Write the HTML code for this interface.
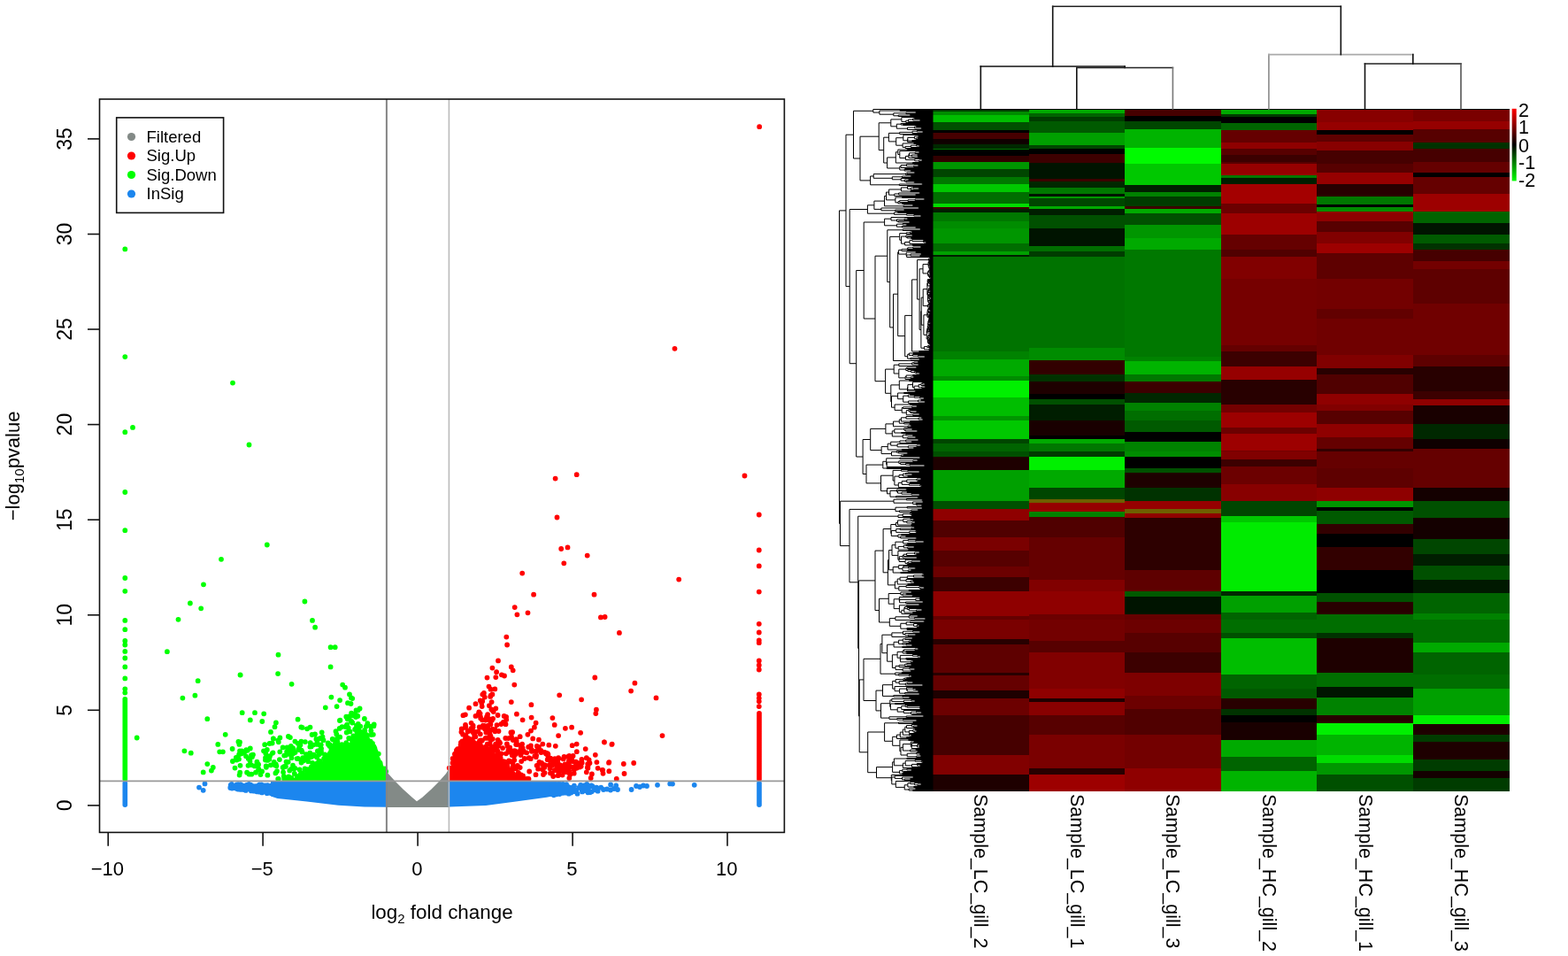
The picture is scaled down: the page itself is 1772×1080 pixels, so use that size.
<!DOCTYPE html><html><head><meta charset="utf-8"><title>Volcano plot and heatmap</title><style>html,body{margin:0;padding:0;background:#fff;overflow:hidden}svg{display:block}</style></head><body>
<svg width="1772" height="1080" viewBox="0 0 1772 1080">
<rect width="1772" height="1080" fill="#fff"/>
<g shape-rendering="crispEdges">
<rect x="1054" y="123" width="109.1" height="1.6" fill="#000000"/>
<rect x="1054" y="124" width="109.1" height="2.2" fill="#003c00"/>
<rect x="1054" y="125.6" width="109.1" height="5.2" fill="#008c00"/>
<rect x="1054" y="130.2" width="109.1" height="8.1" fill="#00be00"/>
<rect x="1054" y="137.7" width="109.1" height="9.9" fill="#005000"/>
<rect x="1054" y="147" width="109.1" height="3.4" fill="#000000"/>
<rect x="1054" y="149.8" width="109.1" height="8" fill="#460000"/>
<rect x="1054" y="157.2" width="109.1" height="6.2" fill="#0f0000"/>
<rect x="1054" y="162.8" width="109.1" height="5.3" fill="#002800"/>
<rect x="1054" y="167.5" width="109.1" height="1.9" fill="#006e00"/>
<rect x="1054" y="168.8" width="109.1" height="7.7" fill="#000000"/>
<rect x="1054" y="175.9" width="109.1" height="8" fill="#320000"/>
<rect x="1054" y="183.3" width="109.1" height="8.1" fill="#009600"/>
<rect x="1054" y="190.8" width="109.1" height="9.8" fill="#004600"/>
<rect x="1054" y="200" width="109.1" height="8.1" fill="#007800"/>
<rect x="1054" y="207.5" width="109.1" height="9.9" fill="#00c800"/>
<rect x="1054" y="216.8" width="109.1" height="13.7" fill="#006e00"/>
<rect x="1054" y="229.9" width="109.1" height="4.3" fill="#00dc00"/>
<rect x="1054" y="233.6" width="109.1" height="3.4" fill="#3c0000"/>
<rect x="1054" y="236.4" width="109.1" height="4.3" fill="#001e00"/>
<rect x="1054" y="240.1" width="109.1" height="10.9" fill="#007800"/>
<rect x="1054" y="250.4" width="109.1" height="8" fill="#008c00"/>
<rect x="1054" y="257.8" width="109.1" height="17.4" fill="#009600"/>
<rect x="1054" y="274.6" width="109.1" height="9.9" fill="#006e00"/>
<rect x="1054" y="283.9" width="109.1" height="4.3" fill="#00a000"/>
<rect x="1054" y="287.6" width="109.1" height="3.4" fill="#001e00"/>
<rect x="1054" y="290.4" width="109.1" height="107.2" fill="#007300"/>
<rect x="1054" y="397" width="109.1" height="9.8" fill="#008200"/>
<rect x="1054" y="406.2" width="109.1" height="19.3" fill="#00aa00"/>
<rect x="1054" y="424.9" width="109.1" height="5.2" fill="#008c00"/>
<rect x="1054" y="429.5" width="109.1" height="20.2" fill="#00f000"/>
<rect x="1054" y="449.1" width="109.1" height="21.1" fill="#00be00"/>
<rect x="1054" y="469.6" width="109.1" height="6.1" fill="#009600"/>
<rect x="1054" y="475.1" width="109.1" height="21.1" fill="#00c800"/>
<rect x="1054" y="495.6" width="109.1" height="6.2" fill="#004600"/>
<rect x="1054" y="501.2" width="109.1" height="9.4" fill="#006400"/>
<rect x="1054" y="510" width="109.1" height="6.2" fill="#005000"/>
<rect x="1054" y="515.6" width="109.1" height="15.5" fill="#1e0000"/>
<rect x="1054" y="530.5" width="109.1" height="36" fill="#00a000"/>
<rect x="1054" y="565.9" width="109.1" height="9.9" fill="#005000"/>
<rect x="1054" y="575.2" width="109.1" height="13.6" fill="#8f0000"/>
<rect x="1054" y="588.2" width="109.1" height="19.2" fill="#500000"/>
<rect x="1054" y="606.8" width="109.1" height="15.5" fill="#7a0000"/>
<rect x="1054" y="621.7" width="109.1" height="19.3" fill="#570000"/>
<rect x="1054" y="640.4" width="109.1" height="11.7" fill="#6c0000"/>
<rect x="1054" y="651.5" width="109.1" height="17.4" fill="#3c0000"/>
<rect x="1054" y="668.3" width="109.1" height="28.5" fill="#8f0000"/>
<rect x="1054" y="696.2" width="109.1" height="4.4" fill="#650000"/>
<rect x="1054" y="700" width="109.1" height="22.9" fill="#7a0000"/>
<rect x="1054" y="722.3" width="109.1" height="6.2" fill="#280000"/>
<rect x="1054" y="727.9" width="109.1" height="32.3" fill="#5e0000"/>
<rect x="1054" y="759.6" width="109.1" height="4.3" fill="#280000"/>
<rect x="1054" y="763.3" width="109.1" height="17.4" fill="#650000"/>
<rect x="1054" y="780.1" width="109.1" height="9.9" fill="#1e0000"/>
<rect x="1054" y="789.4" width="109.1" height="19.2" fill="#6c0000"/>
<rect x="1054" y="808" width="109.1" height="45.3" fill="#460000"/>
<rect x="1054" y="852.7" width="109.1" height="22.9" fill="#810000"/>
<rect x="1054" y="875" width="109.1" height="19.4" fill="#1e0000"/>
<rect x="1162.5" y="123" width="109.1" height="1.6" fill="#000000"/>
<rect x="1162.5" y="124" width="109.1" height="5" fill="#00aa00"/>
<rect x="1162.5" y="128.4" width="109.1" height="4.3" fill="#006400"/>
<rect x="1162.5" y="132.1" width="109.1" height="5.3" fill="#003c00"/>
<rect x="1162.5" y="136.8" width="109.1" height="13.6" fill="#005a00"/>
<rect x="1162.5" y="149.8" width="109.1" height="14.6" fill="#00a000"/>
<rect x="1162.5" y="163.8" width="109.1" height="5.2" fill="#004600"/>
<rect x="1162.5" y="168.4" width="109.1" height="6.2" fill="#000000"/>
<rect x="1162.5" y="174" width="109.1" height="10.8" fill="#3c0000"/>
<rect x="1162.5" y="184.2" width="109.1" height="18.3" fill="#001400"/>
<rect x="1162.5" y="201.9" width="109.1" height="3.4" fill="#3c0000"/>
<rect x="1162.5" y="204.7" width="109.1" height="8.1" fill="#002800"/>
<rect x="1162.5" y="212.2" width="109.1" height="7.1" fill="#007800"/>
<rect x="1162.5" y="218.7" width="109.1" height="3.4" fill="#001400"/>
<rect x="1162.5" y="221.5" width="109.1" height="3.4" fill="#009600"/>
<rect x="1162.5" y="224.3" width="109.1" height="9" fill="#004600"/>
<rect x="1162.5" y="232.7" width="109.1" height="4.3" fill="#00aa00"/>
<rect x="1162.5" y="236.4" width="109.1" height="7.1" fill="#001e00"/>
<rect x="1162.5" y="242.9" width="109.1" height="15.5" fill="#005000"/>
<rect x="1162.5" y="257.8" width="109.1" height="21.1" fill="#001400"/>
<rect x="1162.5" y="278.3" width="109.1" height="6.2" fill="#006e00"/>
<rect x="1162.5" y="283.9" width="109.1" height="7.1" fill="#003c00"/>
<rect x="1162.5" y="290.4" width="109.1" height="103.4" fill="#007300"/>
<rect x="1162.5" y="393.2" width="109.1" height="14.6" fill="#008c00"/>
<rect x="1162.5" y="407.2" width="109.1" height="16.4" fill="#320000"/>
<rect x="1162.5" y="423" width="109.1" height="8.1" fill="#003200"/>
<rect x="1162.5" y="430.5" width="109.1" height="15.5" fill="#1e0000"/>
<rect x="1162.5" y="445.4" width="109.1" height="6.2" fill="#000000"/>
<rect x="1162.5" y="451" width="109.1" height="6.1" fill="#005000"/>
<rect x="1162.5" y="456.5" width="109.1" height="19.2" fill="#001e00"/>
<rect x="1162.5" y="475.1" width="109.1" height="17.4" fill="#190000"/>
<rect x="1162.5" y="491.9" width="109.1" height="4.3" fill="#000000"/>
<rect x="1162.5" y="495.6" width="109.1" height="6.2" fill="#00aa00"/>
<rect x="1162.5" y="501.2" width="109.1" height="9.4" fill="#007800"/>
<rect x="1162.5" y="510" width="109.1" height="6.2" fill="#003c00"/>
<rect x="1162.5" y="515.6" width="109.1" height="15.5" fill="#00f000"/>
<rect x="1162.5" y="530.5" width="109.1" height="21.1" fill="#00aa00"/>
<rect x="1162.5" y="551" width="109.1" height="13.6" fill="#004600"/>
<rect x="1162.5" y="564" width="109.1" height="4.3" fill="#6e5f00"/>
<rect x="1162.5" y="567.7" width="109.1" height="10.9" fill="#960000"/>
<rect x="1162.5" y="578" width="109.1" height="6.2" fill="#008200"/>
<rect x="1162.5" y="583.6" width="109.1" height="23.8" fill="#500000"/>
<rect x="1162.5" y="606.8" width="109.1" height="49.1" fill="#650000"/>
<rect x="1162.5" y="655.3" width="109.1" height="13.6" fill="#810000"/>
<rect x="1162.5" y="668.3" width="109.1" height="26.7" fill="#8f0000"/>
<rect x="1162.5" y="694.4" width="109.1" height="6.2" fill="#6c0000"/>
<rect x="1162.5" y="700" width="109.1" height="24.8" fill="#730000"/>
<rect x="1162.5" y="724.2" width="109.1" height="13.6" fill="#570000"/>
<rect x="1162.5" y="737.2" width="109.1" height="41.6" fill="#810000"/>
<rect x="1162.5" y="778.2" width="109.1" height="11.8" fill="#8f0000"/>
<rect x="1162.5" y="789.4" width="109.1" height="4.3" fill="#1e0000"/>
<rect x="1162.5" y="793.1" width="109.1" height="15.5" fill="#880000"/>
<rect x="1162.5" y="808" width="109.1" height="23" fill="#570000"/>
<rect x="1162.5" y="830.4" width="109.1" height="37.8" fill="#7a0000"/>
<rect x="1162.5" y="867.6" width="109.1" height="8" fill="#280000"/>
<rect x="1162.5" y="875" width="109.1" height="19.4" fill="#9d0000"/>
<rect x="1271.1" y="123" width="109.1" height="1.6" fill="#000000"/>
<rect x="1271.1" y="124" width="109.1" height="7.8" fill="#460000"/>
<rect x="1271.1" y="131.2" width="109.1" height="6.2" fill="#000000"/>
<rect x="1271.1" y="136.8" width="109.1" height="9.9" fill="#004600"/>
<rect x="1271.1" y="146.1" width="109.1" height="21.1" fill="#00b400"/>
<rect x="1271.1" y="166.6" width="109.1" height="19.2" fill="#00fa00"/>
<rect x="1271.1" y="185.2" width="109.1" height="24.8" fill="#00c800"/>
<rect x="1271.1" y="209.4" width="109.1" height="8" fill="#001e00"/>
<rect x="1271.1" y="216.8" width="109.1" height="5.3" fill="#008200"/>
<rect x="1271.1" y="221.5" width="109.1" height="11.8" fill="#003c00"/>
<rect x="1271.1" y="232.7" width="109.1" height="4.3" fill="#3c0000"/>
<rect x="1271.1" y="236.4" width="109.1" height="5.2" fill="#00aa00"/>
<rect x="1271.1" y="241" width="109.1" height="13.7" fill="#005000"/>
<rect x="1271.1" y="254.1" width="109.1" height="15.5" fill="#009600"/>
<rect x="1271.1" y="269" width="109.1" height="13.6" fill="#00aa00"/>
<rect x="1271.1" y="282" width="109.1" height="121.1" fill="#007800"/>
<rect x="1271.1" y="402.5" width="109.1" height="6.2" fill="#008200"/>
<rect x="1271.1" y="408.1" width="109.1" height="15.5" fill="#00b400"/>
<rect x="1271.1" y="423" width="109.1" height="8.1" fill="#007800"/>
<rect x="1271.1" y="430.5" width="109.1" height="13.6" fill="#3c0000"/>
<rect x="1271.1" y="443.5" width="109.1" height="11.8" fill="#002800"/>
<rect x="1271.1" y="454.7" width="109.1" height="9.9" fill="#008200"/>
<rect x="1271.1" y="464" width="109.1" height="11.7" fill="#006e00"/>
<rect x="1271.1" y="475.1" width="109.1" height="13.7" fill="#005a00"/>
<rect x="1271.1" y="488.2" width="109.1" height="11.8" fill="#000000"/>
<rect x="1271.1" y="499.4" width="109.1" height="11.2" fill="#008200"/>
<rect x="1271.1" y="510" width="109.1" height="6.2" fill="#008c00"/>
<rect x="1271.1" y="515.6" width="109.1" height="13.6" fill="#000000"/>
<rect x="1271.1" y="528.6" width="109.1" height="6.2" fill="#005000"/>
<rect x="1271.1" y="534.2" width="109.1" height="17.4" fill="#1e0000"/>
<rect x="1271.1" y="551" width="109.1" height="15.5" fill="#003200"/>
<rect x="1271.1" y="565.9" width="109.1" height="9.9" fill="#960000"/>
<rect x="1271.1" y="575.2" width="109.1" height="5.2" fill="#6e5f00"/>
<rect x="1271.1" y="579.8" width="109.1" height="5.3" fill="#8f0000"/>
<rect x="1271.1" y="584.5" width="109.1" height="60.1" fill="#2d0000"/>
<rect x="1271.1" y="644" width="109.1" height="24.9" fill="#5e0000"/>
<rect x="1271.1" y="668.3" width="109.1" height="6.2" fill="#005a00"/>
<rect x="1271.1" y="673.9" width="109.1" height="21.1" fill="#001400"/>
<rect x="1271.1" y="694.4" width="109.1" height="6.2" fill="#650000"/>
<rect x="1271.1" y="700" width="109.1" height="15.5" fill="#6c0000"/>
<rect x="1271.1" y="714.9" width="109.1" height="22.9" fill="#570000"/>
<rect x="1271.1" y="737.2" width="109.1" height="23" fill="#3c0000"/>
<rect x="1271.1" y="759.6" width="109.1" height="26.7" fill="#7e0000"/>
<rect x="1271.1" y="785.7" width="109.1" height="15.5" fill="#6c0000"/>
<rect x="1271.1" y="800.6" width="109.1" height="30.4" fill="#500000"/>
<rect x="1271.1" y="830.4" width="109.1" height="37.8" fill="#730000"/>
<rect x="1271.1" y="867.6" width="109.1" height="26.8" fill="#8f0000"/>
<rect x="1379.7" y="123" width="109.1" height="1.6" fill="#000000"/>
<rect x="1379.7" y="124" width="109.1" height="5.9" fill="#00aa00"/>
<rect x="1379.7" y="129.3" width="109.1" height="3.4" fill="#003c00"/>
<rect x="1379.7" y="132.1" width="109.1" height="7.1" fill="#000000"/>
<rect x="1379.7" y="138.6" width="109.1" height="9" fill="#006400"/>
<rect x="1379.7" y="147" width="109.1" height="14.6" fill="#650000"/>
<rect x="1379.7" y="161" width="109.1" height="8" fill="#8f0000"/>
<rect x="1379.7" y="168.4" width="109.1" height="7.2" fill="#570000"/>
<rect x="1379.7" y="175" width="109.1" height="8.6" fill="#3c0000"/>
<rect x="1379.7" y="183" width="109.1" height="2.8" fill="#570000"/>
<rect x="1379.7" y="185.2" width="109.1" height="13.6" fill="#960000"/>
<rect x="1379.7" y="198.2" width="109.1" height="3.4" fill="#007800"/>
<rect x="1379.7" y="201" width="109.1" height="7.1" fill="#001e00"/>
<rect x="1379.7" y="207.5" width="109.1" height="23" fill="#a40000"/>
<rect x="1379.7" y="229.9" width="109.1" height="11.7" fill="#6c0000"/>
<rect x="1379.7" y="241" width="109.1" height="24.9" fill="#9d0000"/>
<rect x="1379.7" y="265.3" width="109.1" height="17.3" fill="#650000"/>
<rect x="1379.7" y="282" width="109.1" height="8.1" fill="#500000"/>
<rect x="1379.7" y="289.5" width="109.1" height="26.1" fill="#810000"/>
<rect x="1379.7" y="315" width="109.1" height="75.1" fill="#760000"/>
<rect x="1379.7" y="389.5" width="109.1" height="8.1" fill="#650000"/>
<rect x="1379.7" y="397" width="109.1" height="17.3" fill="#3c0000"/>
<rect x="1379.7" y="413.7" width="109.1" height="15.5" fill="#960000"/>
<rect x="1379.7" y="428.6" width="109.1" height="28.5" fill="#280000"/>
<rect x="1379.7" y="456.5" width="109.1" height="9.9" fill="#730000"/>
<rect x="1379.7" y="465.8" width="109.1" height="17.4" fill="#9d0000"/>
<rect x="1379.7" y="482.6" width="109.1" height="8" fill="#6c0000"/>
<rect x="1379.7" y="490" width="109.1" height="19.3" fill="#9d0000"/>
<rect x="1379.7" y="508.7" width="109.1" height="1.9" fill="#730000"/>
<rect x="1379.7" y="510" width="109.1" height="9.9" fill="#810000"/>
<rect x="1379.7" y="519.3" width="109.1" height="8.1" fill="#3c0000"/>
<rect x="1379.7" y="526.8" width="109.1" height="21" fill="#6c0000"/>
<rect x="1379.7" y="547.2" width="109.1" height="19.3" fill="#880000"/>
<rect x="1379.7" y="565.9" width="109.1" height="17.3" fill="#004600"/>
<rect x="1379.7" y="582.6" width="109.1" height="8.1" fill="#00c800"/>
<rect x="1379.7" y="590.1" width="109.1" height="78.8" fill="#00eb00"/>
<rect x="1379.7" y="668.3" width="109.1" height="5.3" fill="#002800"/>
<rect x="1379.7" y="673" width="109.1" height="19.2" fill="#00a000"/>
<rect x="1379.7" y="691.6" width="109.1" height="9" fill="#006400"/>
<rect x="1379.7" y="700" width="109.1" height="15.5" fill="#006e00"/>
<rect x="1379.7" y="714.9" width="109.1" height="6.2" fill="#005000"/>
<rect x="1379.7" y="720.5" width="109.1" height="41.6" fill="#00be00"/>
<rect x="1379.7" y="761.5" width="109.1" height="17.3" fill="#006400"/>
<rect x="1379.7" y="778.2" width="109.1" height="11.8" fill="#005a00"/>
<rect x="1379.7" y="789.4" width="109.1" height="11.8" fill="#280000"/>
<rect x="1379.7" y="800.6" width="109.1" height="8" fill="#003200"/>
<rect x="1379.7" y="808" width="109.1" height="8.1" fill="#000000"/>
<rect x="1379.7" y="815.5" width="109.1" height="21" fill="#190000"/>
<rect x="1379.7" y="835.9" width="109.1" height="19.3" fill="#00aa00"/>
<rect x="1379.7" y="854.6" width="109.1" height="17.3" fill="#006400"/>
<rect x="1379.7" y="871.3" width="109.1" height="23.1" fill="#00b400"/>
<rect x="1488.2" y="123" width="109.1" height="1.6" fill="#000000"/>
<rect x="1488.2" y="124" width="109.1" height="14.3" fill="#880000"/>
<rect x="1488.2" y="137.7" width="109.1" height="9.9" fill="#960000"/>
<rect x="1488.2" y="147" width="109.1" height="5.3" fill="#000000"/>
<rect x="1488.2" y="151.7" width="109.1" height="8.9" fill="#5e0000"/>
<rect x="1488.2" y="160" width="109.1" height="10.9" fill="#880000"/>
<rect x="1488.2" y="170.3" width="109.1" height="15.5" fill="#460000"/>
<rect x="1488.2" y="185.2" width="109.1" height="9.9" fill="#570000"/>
<rect x="1488.2" y="194.5" width="109.1" height="13.6" fill="#960000"/>
<rect x="1488.2" y="207.5" width="109.1" height="15.5" fill="#280000"/>
<rect x="1488.2" y="222.4" width="109.1" height="9" fill="#007800"/>
<rect x="1488.2" y="230.8" width="109.1" height="3.4" fill="#000000"/>
<rect x="1488.2" y="233.6" width="109.1" height="6.2" fill="#008c00"/>
<rect x="1488.2" y="239.2" width="109.1" height="11.8" fill="#8f0000"/>
<rect x="1488.2" y="250.4" width="109.1" height="11.7" fill="#570000"/>
<rect x="1488.2" y="261.5" width="109.1" height="13.7" fill="#810000"/>
<rect x="1488.2" y="274.6" width="109.1" height="11.7" fill="#9d0000"/>
<rect x="1488.2" y="285.7" width="109.1" height="29.9" fill="#5e0000"/>
<rect x="1488.2" y="315" width="109.1" height="34.1" fill="#730000"/>
<rect x="1488.2" y="348.5" width="109.1" height="11.8" fill="#620000"/>
<rect x="1488.2" y="359.7" width="109.1" height="41.6" fill="#700000"/>
<rect x="1488.2" y="400.7" width="109.1" height="15.5" fill="#810000"/>
<rect x="1488.2" y="415.6" width="109.1" height="8" fill="#280000"/>
<rect x="1488.2" y="423" width="109.1" height="23" fill="#500000"/>
<rect x="1488.2" y="445.4" width="109.1" height="11.7" fill="#8f0000"/>
<rect x="1488.2" y="456.5" width="109.1" height="8.1" fill="#810000"/>
<rect x="1488.2" y="464" width="109.1" height="15.5" fill="#570000"/>
<rect x="1488.2" y="478.9" width="109.1" height="15.5" fill="#8f0000"/>
<rect x="1488.2" y="493.8" width="109.1" height="13.6" fill="#650000"/>
<rect x="1488.2" y="506.8" width="109.1" height="3.8" fill="#320000"/>
<rect x="1488.2" y="510" width="109.1" height="19.2" fill="#650000"/>
<rect x="1488.2" y="528.6" width="109.1" height="23" fill="#5e0000"/>
<rect x="1488.2" y="551" width="109.1" height="15.5" fill="#8f0000"/>
<rect x="1488.2" y="565.9" width="109.1" height="8" fill="#009600"/>
<rect x="1488.2" y="573.3" width="109.1" height="4.3" fill="#000000"/>
<rect x="1488.2" y="577" width="109.1" height="15.5" fill="#005a00"/>
<rect x="1488.2" y="591.9" width="109.1" height="11.8" fill="#320000"/>
<rect x="1488.2" y="603.1" width="109.1" height="15.5" fill="#000000"/>
<rect x="1488.2" y="618" width="109.1" height="26.7" fill="#320000"/>
<rect x="1488.2" y="644.1" width="109.1" height="26.6" fill="#000000"/>
<rect x="1488.2" y="670.1" width="109.1" height="10" fill="#005000"/>
<rect x="1488.2" y="679.5" width="109.1" height="15.5" fill="#280000"/>
<rect x="1488.2" y="694.4" width="109.1" height="21.1" fill="#006e00"/>
<rect x="1488.2" y="714.9" width="109.1" height="7.1" fill="#003200"/>
<rect x="1488.2" y="721.4" width="109.1" height="38.8" fill="#1e0000"/>
<rect x="1488.2" y="759.6" width="109.1" height="17.4" fill="#006e00"/>
<rect x="1488.2" y="776.4" width="109.1" height="11.7" fill="#001400"/>
<rect x="1488.2" y="787.5" width="109.1" height="21.1" fill="#008200"/>
<rect x="1488.2" y="808" width="109.1" height="9.9" fill="#280000"/>
<rect x="1488.2" y="817.3" width="109.1" height="13.7" fill="#00f000"/>
<rect x="1488.2" y="830.4" width="109.1" height="22.9" fill="#00b400"/>
<rect x="1488.2" y="852.7" width="109.1" height="9.9" fill="#00dc00"/>
<rect x="1488.2" y="862" width="109.1" height="13.6" fill="#009600"/>
<rect x="1488.2" y="875" width="109.1" height="19.4" fill="#005000"/>
<rect x="1596.8" y="123" width="109.1" height="1.6" fill="#000000"/>
<rect x="1596.8" y="124" width="109.1" height="13.4" fill="#7a0000"/>
<rect x="1596.8" y="136.8" width="109.1" height="9.9" fill="#960000"/>
<rect x="1596.8" y="146.1" width="109.1" height="15.5" fill="#570000"/>
<rect x="1596.8" y="161" width="109.1" height="8" fill="#003200"/>
<rect x="1596.8" y="168.4" width="109.1" height="15.5" fill="#460000"/>
<rect x="1596.8" y="183.3" width="109.1" height="11.8" fill="#650000"/>
<rect x="1596.8" y="194.5" width="109.1" height="6.1" fill="#000000"/>
<rect x="1596.8" y="200" width="109.1" height="19.3" fill="#650000"/>
<rect x="1596.8" y="218.7" width="109.1" height="21.1" fill="#9d0000"/>
<rect x="1596.8" y="239.2" width="109.1" height="13.6" fill="#006400"/>
<rect x="1596.8" y="252.2" width="109.1" height="13.7" fill="#001400"/>
<rect x="1596.8" y="265.3" width="109.1" height="9.9" fill="#005a00"/>
<rect x="1596.8" y="274.6" width="109.1" height="8" fill="#003200"/>
<rect x="1596.8" y="282" width="109.1" height="13.6" fill="#460000"/>
<rect x="1596.8" y="295" width="109.1" height="10" fill="#730000"/>
<rect x="1596.8" y="304.4" width="109.1" height="11.2" fill="#5e0000"/>
<rect x="1596.8" y="315" width="109.1" height="28.6" fill="#5e0000"/>
<rect x="1596.8" y="343" width="109.1" height="58.3" fill="#700000"/>
<rect x="1596.8" y="400.7" width="109.1" height="13.6" fill="#5e0000"/>
<rect x="1596.8" y="413.7" width="109.1" height="28.5" fill="#280000"/>
<rect x="1596.8" y="441.6" width="109.1" height="10" fill="#3c0000"/>
<rect x="1596.8" y="451" width="109.1" height="8" fill="#8f0000"/>
<rect x="1596.8" y="458.4" width="109.1" height="21.1" fill="#190000"/>
<rect x="1596.8" y="478.9" width="109.1" height="17.3" fill="#002800"/>
<rect x="1596.8" y="495.6" width="109.1" height="11.8" fill="#0f0000"/>
<rect x="1596.8" y="506.8" width="109.1" height="44.8" fill="#650000"/>
<rect x="1596.8" y="551" width="109.1" height="15.5" fill="#140000"/>
<rect x="1596.8" y="565.9" width="109.1" height="19.2" fill="#005000"/>
<rect x="1596.8" y="584.5" width="109.1" height="24.8" fill="#140000"/>
<rect x="1596.8" y="608.7" width="109.1" height="17.4" fill="#004600"/>
<rect x="1596.8" y="625.5" width="109.1" height="13.6" fill="#001e00"/>
<rect x="1596.8" y="638.5" width="109.1" height="17.4" fill="#005000"/>
<rect x="1596.8" y="655.3" width="109.1" height="15.4" fill="#001900"/>
<rect x="1596.8" y="670.1" width="109.1" height="23" fill="#006400"/>
<rect x="1596.8" y="692.5" width="109.1" height="8.1" fill="#008200"/>
<rect x="1596.8" y="700" width="109.1" height="26.7" fill="#006e00"/>
<rect x="1596.8" y="726.1" width="109.1" height="11.7" fill="#00aa00"/>
<rect x="1596.8" y="737.2" width="109.1" height="24.9" fill="#006400"/>
<rect x="1596.8" y="761.5" width="109.1" height="17.3" fill="#006e00"/>
<rect x="1596.8" y="778.2" width="109.1" height="30.4" fill="#00a000"/>
<rect x="1596.8" y="808" width="109.1" height="10.8" fill="#00f000"/>
<rect x="1596.8" y="818.2" width="109.1" height="12.8" fill="#1e0000"/>
<rect x="1596.8" y="830.4" width="109.1" height="8" fill="#003c00"/>
<rect x="1596.8" y="837.8" width="109.1" height="21.1" fill="#1e0000"/>
<rect x="1596.8" y="858.3" width="109.1" height="13.6" fill="#003c00"/>
<rect x="1596.8" y="871.3" width="109.1" height="8.1" fill="#140000"/>
<rect x="1596.8" y="878.8" width="109.1" height="15.6" fill="#003c00"/>
</g>
<g fill="none" stroke-width="1.6" stroke-linecap="square"><line x1="1108.3" y1="123" x2="1108.3" y2="75" stroke="#111"/><line x1="1108.3" y1="75" x2="1271.1" y2="75" stroke="#111"/><line x1="1271.1" y1="75" x2="1271.1" y2="76.5" stroke="#111"/><line x1="1216.8" y1="123" x2="1216.8" y2="76.5" stroke="#111"/><line x1="1216.8" y1="76.5" x2="1325.4" y2="76.5" stroke="#222"/><line x1="1325.4" y1="76.5" x2="1325.4" y2="123" stroke="#777"/><line x1="1542.5" y1="123" x2="1542.5" y2="72" stroke="#111"/><line x1="1542.5" y1="72" x2="1651" y2="72" stroke="#222"/><line x1="1651" y1="72" x2="1651" y2="123" stroke="#555"/><line x1="1433.9" y1="123" x2="1433.9" y2="61.6" stroke="#8a8a8a"/><line x1="1433.9" y1="61.6" x2="1596.8" y2="61.6" stroke="#aaa"/><line x1="1596.8" y1="61.6" x2="1596.8" y2="72" stroke="#111"/><line x1="1189.7" y1="75" x2="1189.7" y2="7.3" stroke="#111"/><line x1="1189.7" y1="7.3" x2="1515.3" y2="7.3" stroke="#222"/><line x1="1515.3" y1="7.3" x2="1515.3" y2="61.6" stroke="#111"/></g>
<path fill="none" stroke="#000" stroke-width="1" d="M1054.5 126.5H1034.9V127.5H1054.5M1054.5 129.5H1028.4V130.5H1054.5M1034.9 127H1023.9V128.5H1054.5M1054.5 124.5H1017.1V125.5H1054.5M1028.4 130H1015.2V131.5H1054.5M1023.9 127.8H1009.8V130.8H1015.2M1017.1 125H993.9V129.2H1009.8M1054.5 123.5H986.8V127.1H993.9M1054.5 148.5H1042.8V149.5H1054.5M1054.5 180.5H1041.9V181.5H1054.5M1054.5 144.5H1041.1V145.5H1054.5M1054.5 135.5H1039.7V136.5H1054.5M1054.5 164.5H1038.9V165.5H1054.5M1054.5 171.5H1038.6V172.5H1054.5M1041.9 181H1038.5V182.5H1054.5M1054.5 153.5H1037.7V154.5H1054.5M1054.5 186.5H1037.6V187.5H1054.5M1054.5 176.5H1037.1V177.5H1054.5M1054.5 155.5H1037.1V156.5H1054.5M1054.5 174.5H1036.8V175.5H1054.5M1054.5 147.5H1036.3V149H1042.8M1054.5 163.5H1035.5V165H1038.9M1054.5 142.5H1035.4V143.5H1054.5M1037.1 156H1035.2V157.5H1054.5M1038.6 172H1034.1V173.5H1054.5M1054.5 179.5H1033.8V181.8H1038.5M1035.4 143H1033.5V145H1041.1M1037.7 154H1033.4V156.8H1035.2M1054.5 133.5H1033.3V134.5H1054.5M1054.5 161.5H1032.7V162.5H1054.5M1037.6 187H1032.6V188.5H1054.5M1033.3 134H1031.7V136H1039.7M1054.5 183.5H1031.3V184.5H1054.5M1036.3 148.2H1031.1V150.5H1054.5M1054.5 158.5H1030.7V159.5H1054.5M1036.8 175H1030.3V177H1037.1M1035.5 164.2H1029.4V166.5H1054.5M1054.5 192.5H1029.2V193.5H1054.5M1034.1 172.8H1027.6V176H1030.3M1027.6 174.4H1026.9V178.5H1054.5M1031.7 135H1026.6V137.5H1054.5M1033.4 155.4H1025.8V159H1030.7M1025.8 157.2H1025.6V160.5H1054.5M1033.5 144H1025.5V146.5H1054.5M1054.5 168.5H1025.1V169.5H1054.5M1054.5 185.5H1024.5V187.8H1032.6M1026.6 136.2H1023.8V138.5H1054.5M1026.9 176.4H1023.5V180.6H1033.8M1029.4 165.4H1023.1V167.5H1054.5M1054.5 190.5H1022.7V191.5H1054.5M1022.7 191H1022.2V193H1029.2M1054.5 152.5H1020.8V158.8H1025.6M1054.5 140.5H1020.4V141.5H1054.5M1032.7 162H1020.1V166.4H1023.1M1054.5 132.5H1018.9V137.4H1023.8M1024.5 186.6H1018.1V189.5H1054.5M1054.5 139.5H1018.1V141H1020.4M1018.1 188.1H1016.8V192H1022.2M1054.5 170.5H1016.8V178.5H1023.5M1031.1 149.4H1016.7V151.5H1054.5M1025.1 169H1014.8V174.5H1016.8M1018.1 140.2H1013.3V145.2H1025.5M1020.8 155.7H1012.7V164.2H1020.1M1014.8 171.8H1012.3V184H1031.3M1018.9 134.9H1006.8V142.8H1013.3M1016.7 150.4H1004.4V159.9H1012.7M1012.3 177.9H1002.6V190H1016.8M1004.4 155.2H998.7V184H1002.6M1006.8 138.8H993.2V169.6H998.7M1054.5 207.5H1042.1V208.5H1054.5M1054.5 194.5H1033.4V195.5H1054.5M1054.5 205.5H1033.2V206.5H1054.5M1054.5 198.5H1029.3V199.5H1054.5M1054.5 202.5H1026.7V203.5H1054.5M1033.4 195H1025.1V196.5H1054.5M1054.5 204.5H1024V206H1033.2M1025.1 195.8H1023.5V197.5H1054.5M1026.7 203H1022.3V205.2H1024M1029.3 199H1019.5V200.5H1054.5M1054.5 201.5H1018.2V204.1H1022.3M1042.1 208H1016.3V209.5H1054.5M1019.5 199.8H1008.3V202.8H1018.2M1023.5 196.6H987.2V201.3H1008.3M987.2 199H983.6V208.8H1016.3M993.2 154.2H972V203.9H983.6M986.8 125.3H964.5V179H972M1054.5 224.5H1044.4V225.5H1054.5M1054.5 243.5H1040.6V244.5H1054.5M1054.5 217.5H1039.2V218.5H1054.5M1054.5 212.5H1038.2V213.5H1054.5M1054.5 234.5H1038.1V235.5H1054.5M1054.5 219.5H1034.8V220.5H1054.5M1044.4 225H1034.1V226.5H1054.5M1054.5 242.5H1032.8V244H1040.6M1054.5 211.5H1032V213H1038.2M1054.5 231.5H1031.5V232.5H1054.5M1032 212.2H1029.4V214.5H1054.5M1054.5 215.5H1028.8V216.5H1054.5M1034.1 225.8H1026V227.5H1054.5M1054.5 210.5H1025.5V213.4H1029.4M1054.5 241.5H1024.6V243.2H1032.8M1054.5 236.5H1021.8V237.5H1054.5M1031.5 232H1021V233.5H1054.5M1054.5 229.5H1019.5V230.5H1054.5M1054.5 222.5H1019.4V223.5H1054.5M1025.5 211.9H1018.4V216H1028.8M1026 226.6H1016.7V228.5H1054.5M1039.2 218H1015.6V220H1034.8M1016.7 227.6H1015V230H1019.5M1054.5 239.5H1014.5V240.5H1054.5M1019.4 223H1011.9V228.8H1015M1021.8 237H1011.7V238.5H1054.5M1015.6 219H1010.8V221.5H1054.5M1014.5 240H1010.6V242.4H1024.6M1018.4 214H1004.6V220.2H1010.8M1004.6 217.1H1001.5V225.9H1011.9M1001.5 221.5H999.5V232.8H1021M1038.1 235H995.9V237.8H1011.7M999.5 227.1H987.9V236.4H995.9M987.9 231.8H980.4V241.2H1010.6M1054.5 256.5H1034.9V257.5H1054.5M1054.5 250.5H1027.7V251.5H1054.5M1054.5 246.5H1025.4V247.5H1054.5M1054.5 253.5H1024.3V254.5H1054.5M1025.4 247H1022V248.5H1054.5M1054.5 252.5H1020.2V254H1024.3M1054.5 255.5H1019.3V257H1034.9M1054.5 249.5H1015.2V251H1027.7M1022 247.8H1013.5V250.2H1015.2M1020.2 253.2H1013.4V256.2H1019.3M1054.5 245.5H1007V249H1013.5M1007 247.2H999.6V254.8H1013.4M1054.5 336.5H1052V337.5H1054.5M1054.5 313.5H1051.4V314.5H1054.5M1054.5 364.5H1051.1V365.5H1054.5M1054.5 328.5H1051.1V329.5H1054.5M1054.5 350.5H1051.1V351.5H1054.5M1054.5 340.5H1051V341.5H1054.5M1054.5 301.5H1051V302.5H1054.5M1054.5 309.5H1050.9V310.5H1054.5M1054.5 389.5H1050.9V390.5H1054.5M1054.5 299.5H1050.8V300.5H1054.5M1054.5 320.5H1050.8V321.5H1054.5M1054.5 380.5H1050.8V381.5H1054.5M1054.5 375.5H1050.8V376.5H1054.5M1054.5 291.5H1050.7V292.5H1054.5M1054.5 324.5H1050.7V325.5H1054.5M1054.5 305.5H1050.7V306.5H1054.5M1050.7 325H1050.6V326.5H1054.5M1054.5 307.5H1050.6V308.5H1054.5M1054.5 312.5H1050.5V314H1051.4M1054.5 331.5H1050.5V332.5H1054.5M1054.5 319.5H1050.5V321H1050.8M1054.5 322.5H1050.4V323.5H1054.5M1052 337H1050.4V338.5H1054.5M1054.5 353.5H1050.4V354.5H1054.5M1054.5 369.5H1050.3V370.5H1054.5M1054.5 393.5H1050.3V394.5H1054.5M1054.5 377.5H1050.3V378.5H1054.5M1054.5 311.5H1050.3V313.2H1050.5M1054.5 344.5H1050.2V345.5H1054.5M1054.5 304.5H1050.2V306H1050.7M1054.5 335.5H1050.2V337.8H1050.4M1050.5 332H1050.2V333.5H1054.5M1051 302H1050.1V303.5H1054.5M1054.5 363.5H1050.1V365H1051.1M1054.5 346.5H1050V347.5H1054.5M1054.5 368.5H1049.9V370H1050.3M1054.5 372.5H1049.9V373.5H1054.5M1054.5 298.5H1049.9V300H1050.8M1050.3 394H1049.9V395.5H1054.5M1050.8 381H1049.8V382.5H1054.5M1049.9 299.2H1049.8V302.8H1050.1M1054.5 296.5H1049.8V297.5H1054.5M1054.5 358.5H1049.8V359.5H1054.5M1050.2 305.2H1049.8V308H1050.6M1054.5 352.5H1049.7V354H1050.4M1054.5 361.5H1049.7V362.5H1054.5M1054.5 360.5H1049.7V362H1049.7M1051 341H1049.6V342.5H1054.5M1054.5 327.5H1049.6V329H1051.1M1054.5 318.5H1049.6V320.2H1050.5M1050.2 332.8H1049.5V334.5H1054.5M1050.9 390H1049.5V391.5H1054.5M1049.9 369.2H1049.5V371.5H1054.5M1050.7 292H1049.5V293.5H1054.5M1054.5 355.5H1049.5V356.5H1054.5M1049.7 361.2H1049.4V364.2H1050.1M1054.5 384.5H1049.4V385.5H1054.5M1051.1 351H1049.4V353.2H1049.7M1049.5 292.8H1049.4V294.5H1054.5M1054.5 295.5H1049.4V297H1049.8M1050.6 325.8H1049.3V328.2H1049.6M1054.5 343.5H1049.3V345H1050.2M1054.5 366.5H1049.3V367.5H1054.5M1050.9 310H1049.3V312.4H1050.3M1054.5 383.5H1049.3V385H1049.4M1054.5 387.5H1049.3V388.5H1054.5M1054.5 386.5H1049.3V388H1049.3M1050.3 378H1049.2V379.5H1054.5M1054.5 339.5H1049.1V341.8H1049.6M1049.3 327H1049.1V330.5H1054.5M1049.4 296.2H1049.1V301H1049.8M1049.5 370.4H1049V373H1049.9M1054.5 316.5H1049V317.5H1054.5M1049.2 378.8H1049V381.8H1049.8M1049.5 333.6H1049V336.6H1050.2M1054.5 348.5H1049V349.5H1054.5M1049 317H1048.9V319.4H1049.6M1049.4 362.8H1048.9V367H1049.3M1054.5 357.5H1048.9V359H1049.8M1048.9 364.9H1048.8V371.7H1049M1049 349H1048.7V352.1H1049.4M1049.8 306.6H1048.6V311.2H1049.3M1049 335.1H1048.6V340.6H1049.1M1049.1 328.8H1048.6V337.9H1048.6M1049.3 344.2H1048.4V347H1050M1049.3 384.2H1048.4V387.2H1049.3M1049 380.2H1048.4V385.8H1048.4M1054.5 315.5H1048.3V318.2H1048.9M1048.8 368.3H1048.3V374.5H1054.5M1048.3 316.8H1048.3V323H1050.4M1048.7 350.6H1048.1V356H1049.5M1048.3 319.9H1047.9V333.3H1048.6M1048.1 353.3H1047.9V358.2H1048.9M1049.5 390.8H1047.9V392.5H1054.5M1048.3 371.4H1047.7V376H1050.8M1047.7 373.7H1047.2V383H1048.4M1054.5 273.5H1046.2V274.5H1054.5M1054.5 402.5H1045V403.5H1054.5M1047.9 391.6H1044.4V394.8H1049.9M1054.5 272.5H1043.9V274H1046.2M1047.9 355.8H1043.9V378.3H1047.2M1054.5 271.5H1043.5V273.2H1043.9M1047.9 326.6H1043.2V345.6H1048.4M1049.1 298.6H1043V308.9H1048.6M1043.2 336.1H1041.2V367.1H1043.9M1041.2 351.6H1040.9V393.2H1044.4M1054.5 286.5H1040.9V287.5H1054.5M1054.5 278.5H1040.5V279.5H1054.5M1054.5 258.5H1040V259.5H1054.5M1054.5 288.5H1039.7V289.5H1054.5M1043 303.8H1039.1V372.4H1040.9M1054.5 405.5H1039V406.5H1054.5M1054.5 396.5H1038.6V397.5H1054.5M1054.5 401.5H1037.4V403H1045M1049.4 293.6H1036.6V338.1H1039.1M1054.5 284.5H1034.9V285.5H1054.5M1054.5 398.5H1032V399.5H1054.5M1040.5 279H1031.7V280.5H1054.5M1054.5 400.5H1031.5V402.2H1037.4M1054.5 276.5H1031.2V277.5H1054.5M1054.5 265.5H1030.9V266.5H1054.5M1054.5 270.5H1030.8V272.4H1043.5M1036.6 315.9H1030.6V397H1038.6M1054.5 261.5H1030.5V262.5H1054.5M1054.5 268.5H1029.4V269.5H1054.5M1040.9 287H1029V289H1039.7M1054.5 404.5H1028.9V406H1039M1030.5 262H1028.5V263.5H1054.5M1030.8 271.4H1028V275.5H1054.5M1032 399H1027.4V401.4H1031.5M1031.7 279.8H1025.8V281.5H1054.5M1027.4 400.2H1025.7V405.2H1028.9M1025.8 280.6H1025.3V282.5H1054.5M1054.5 267.5H1025.2V269H1029.4M1029 288H1024.7V290.5H1054.5M1028.5 262.8H1024.2V264.5H1054.5M1034.9 285H1024.2V289.2H1024.7M1030.9 266H1023.9V268.2H1025.2M1030.6 356.4H1022.7V402.7H1025.7M1028 273.5H1022.6V277H1031.2M1040 259H1020.3V260.5H1054.5M1025.3 281.6H1018.9V283.5H1054.5M1023.9 267.1H1018.5V275.2H1022.6M1024.2 263.6H1016.7V271.2H1018.5M1018.9 282.5H1015.6V287.1H1024.2M1015.6 284.8H1014.7V379.6H1022.7M1014.7 332.2H1009.5V407.5H1054.5M1016.7 267.4H1005.7V369.9H1009.5M1020.3 259.8H1002.8V318.6H1005.7M1054.5 436.5H1045.2V437.5H1054.5M1054.5 453.5H1045.1V454.5H1054.5M1054.5 433.5H1044.9V434.5H1054.5M1054.5 449.5H1044V450.5H1054.5M1054.5 432.5H1042.3V434H1044.9M1045.2 437H1041.7V438.5H1054.5M1054.5 451.5H1041V452.5H1054.5M1042.3 433.2H1040.9V435.5H1054.5M1054.5 448.5H1039.6V450H1044M1054.5 421.5H1039.1V422.5H1054.5M1054.5 467.5H1038.8V468.5H1054.5M1040.9 434.4H1038.2V437.8H1041.7M1054.5 411.5H1037.8V412.5H1054.5M1041 452H1037.5V454H1045.1M1054.5 408.5H1037.4V409.5H1054.5M1054.5 458.5H1036V459.5H1054.5M1054.5 464.5H1035.7V465.5H1054.5M1054.5 414.5H1035.5V415.5H1054.5M1054.5 420.5H1035.3V422H1039.1M1054.5 441.5H1034.2V442.5H1054.5M1054.5 419.5H1033.6V421.2H1035.3M1038.2 436.1H1033.2V439.5H1054.5M1054.5 447.5H1033.2V449.2H1039.6M1037.4 409H1032.8V410.5H1054.5M1054.5 425.5H1032.3V426.5H1054.5M1038.8 468H1031.7V469.5H1054.5M1054.5 431.5H1031.5V437.8H1033.2M1054.5 423.5H1031.4V424.5H1054.5M1032.8 409.8H1030.7V412H1037.8M1036 459H1030.6V460.5H1054.5M1054.5 418.5H1029.4V420.4H1033.6M1035.7 465H1029.2V466.5H1054.5M1032.3 426H1029.1V427.5H1054.5M1054.5 445.5H1028.4V446.5H1054.5M1054.5 463.5H1028.2V465.8H1029.2M1054.5 456.5H1028.2V457.5H1054.5M1054.5 429.5H1027.5V430.5H1054.5M1054.5 462.5H1026.8V464.6H1028.2M1037.5 453H1026.6V455.5H1054.5M1028.4 446H1026.3V448.4H1033.2M1031.5 434.6H1025.9V440.5H1054.5M1054.5 417.5H1025.8V419.4H1029.4M1025.9 437.6H1025.5V442H1034.2M1035.5 415H1024.8V416.5H1054.5M1026.8 463.6H1024.3V468.8H1031.7M1031.4 424H1024.1V426.8H1029.1M1024.8 415.8H1023.8V418.5H1025.8M1024.1 425.4H1023.1V428.5H1054.5M1054.5 443.5H1021.4V444.5H1054.5M1026.3 447.2H1020.7V454.2H1026.6M1030.6 459.8H1020.5V461.5H1054.5M1020.5 460.6H1019.2V466.2H1024.3M1027.5 430H1016.3V439.8H1025.5M1023.8 417.1H1015.8V426.9H1023.1M1030.7 410.9H1015.8V413.5H1054.5M1021.4 444H1014.6V450.7H1020.7M1028.2 457H1011.1V463.4H1019.2M1015.8 412.2H1010.2V422H1015.8M1014.6 447.4H1007.5V460.2H1011.1M1016.3 434.9H1006.8V453.8H1007.5M1010.2 417.1H1000.6V444.3H1006.8M1002.8 289.2H989V430.7H1000.6M999.6 251H976.2V360H989M1054.5 525.5H1044.6V526.5H1054.5M1054.5 473.5H1042.7V474.5H1054.5M1054.5 471.5H1041.3V472.5H1054.5M1054.5 548.5H1041.1V549.5H1054.5M1054.5 540.5H1040.5V541.5H1054.5M1054.5 502.5H1040.1V503.5H1054.5M1054.5 547.5H1039.7V549H1041.1M1054.5 516.5H1039.4V517.5H1054.5M1054.5 558.5H1038.9V559.5H1054.5M1054.5 532.5H1038.8V533.5H1054.5M1041.3 472H1038.1V474H1042.7M1054.5 496.5H1037.6V497.5H1054.5M1054.5 542.5H1037.4V543.5H1054.5M1054.5 561.5H1037.2V562.5H1054.5M1054.5 519.5H1036.8V520.5H1054.5M1054.5 486.5H1036.4V487.5H1054.5M1040.5 541H1036V543H1037.4M1040.1 503H1035.9V504.5H1054.5M1054.5 493.5H1034.6V494.5H1054.5M1054.5 505.5H1032.4V506.5H1054.5M1036.8 520H1031.7V521.5H1054.5M1054.5 491.5H1031.5V492.5H1054.5M1054.5 484.5H1030.8V485.5H1054.5M1054.5 535.5H1030.6V536.5H1054.5M1054.5 498.5H1030.2V499.5H1054.5M1054.5 557.5H1030V559H1038.9M1054.5 480.5H1029.3V481.5H1054.5M1054.5 475.5H1028.6V476.5H1054.5M1054.5 544.5H1028.4V545.5H1054.5M1054.5 524.5H1028V526H1044.6M1054.5 478.5H1027.9V479.5H1054.5M1054.5 546.5H1027.4V548.2H1039.7M1035.9 503.8H1026.3V506H1032.4M1029.3 481H1025.9V482.5H1054.5M1054.5 537.5H1025.8V538.5H1054.5M1054.5 531.5H1025.8V533H1038.8M1034.6 494H1025.7V495.5H1054.5M1054.5 511.5H1025.3V512.5H1054.5M1054.5 555.5H1025V556.5H1054.5M1036 542H1024.8V545H1028.4M1054.5 552.5H1024.2V553.5H1054.5M1054.5 470.5H1024V473H1038.1M1054.5 490.5H1023.8V492H1031.5M1037.6 497H1023.7V499H1030.2M1054.5 523.5H1023.5V525.2H1028M1054.5 534.5H1023.5V536H1030.6M1030.8 485H1023V487H1036.4M1054.5 483.5H1021.8V486H1023M1054.5 477.5H1021.6V479H1027.9M1054.5 513.5H1021.1V514.5H1054.5M1023.5 535.2H1020.5V538H1025.8M1023.8 491.2H1020.3V494.8H1025.7M1024.8 543.5H1019.2V547.4H1027.4M1054.5 507.5H1019.2V508.5H1054.5M1025 556H1018.9V558.2H1030M1054.5 488.5H1018.6V489.5H1054.5M1054.5 530.5H1018.5V532.2H1025.8M1024 471.8H1018.4V476H1028.6M1021.1 514H1018.4V515.5H1054.5M1054.5 522.5H1017.6V524.4H1023.5M1039.4 517H1016.9V518.5H1054.5M1023.7 498H1016.9V500.5H1054.5M1018.4 473.9H1016.3V478.2H1021.6M1020.5 536.6H1016V539.5H1054.5M1031.7 520.8H1015.8V523.4H1017.6M1054.5 510.5H1015.4V512H1025.3M1019.2 545.4H1015.3V550.5H1054.5M1054.5 554.5H1014.5V557.1H1018.9M1054.5 501.5H1014.1V504.9H1026.3M1024.2 553H1013.4V555.8H1014.5M1054.5 509.5H1013.2V511.2H1015.4M1054.5 560.5H1012.6V562H1037.2M1016 538.1H1010.9V548H1015.3M1021.8 484.8H1010.8V489H1018.6M1016.3 476.1H1009.5V481.8H1025.9M1018.5 531.4H1009.1V543H1010.9M1010.8 486.9H1008.3V493H1020.3M1013.2 510.4H1007.5V514.8H1018.4M1016.9 499.2H1006.7V503.2H1014.1M1013.4 554.4H1006V561.2H1012.6M1006.7 501.2H1003.2V508H1019.2M1054.5 551.5H1002.5V557.8H1006M1015.8 522.1H1002.2V527.5H1054.5M1054.5 528.5H1002.1V529.5H1054.5M1016.9 517.8H1001.7V524.8H1002.2M1009.5 478.9H1000.9V489.9H1008.3M1001.7 521.3H997.8V529H1002.1M1003.2 504.6H996.1V512.6H1007.5M1009.1 537.2H995.5V554.7H1002.5M1000.9 484.4H983.7V508.6H996.1M997.8 525.1H979V545.9H995.5M983.7 496.5H975.1V535.5H979M976.2 305.5H967.7V516H975.1M980.4 236.5H960.2V410.7H967.7M964.5 152.2H956V323.6H960.2M1054.5 566.5H1042.8V567.5H1054.5M1054.5 564.5H1042.1V565.5H1054.5M1054.5 570.5H1041.4V571.5H1054.5M1054.5 569.5H1036V571H1041.4M1054.5 568.5H1035.1V570.2H1036M1042.8 567H1031.6V569.4H1035.1M1054.5 563.5H1024.4V565H1042.1M1024.4 564.2H1010V568.2H1031.6M1054.5 573.5H1042V574.5H1054.5M1054.5 575.5H1037.2V576.5H1054.5M1037.2 576H1029.8V577.5H1054.5M1054.5 572.5H1025.1V574H1042M1029.8 576.8H1016.5V578.5H1054.5M1025.1 573.2H1012V577.6H1016.5M1054.5 581.5H1030.2V582.5H1054.5M1054.5 580.5H1030V582H1030.2M1054.5 579.5H1028.6V581.2H1030M1028.6 580.4H1020.2V583.5H1054.5M1020.2 581.9H1015V584.5H1054.5M1054.5 698.5H1045.5V699.5H1054.5M1054.5 651.5H1044.2V652.5H1054.5M1054.5 701.5H1044.2V702.5H1054.5M1054.5 663.5H1044.1V664.5H1054.5M1054.5 611.5H1043.8V612.5H1054.5M1054.5 648.5H1043.6V649.5H1054.5M1054.5 679.5H1042.9V680.5H1054.5M1043.6 649H1042.2V650.5H1054.5M1054.5 688.5H1041.6V689.5H1054.5M1044.1 664H1040.2V665.5H1054.5M1054.5 633.5H1040V634.5H1054.5M1054.5 676.5H1039.5V677.5H1054.5M1054.5 675.5H1039.3V677H1039.5M1054.5 623.5H1038.9V624.5H1054.5M1054.5 662.5H1038.9V664.8H1040.2M1054.5 682.5H1038.6V683.5H1054.5M1054.5 706.5H1038.4V707.5H1054.5M1054.5 695.5H1036.9V696.5H1054.5M1054.5 705.5H1036.7V707H1038.4M1036.7 706.2H1036.2V708.5H1054.5M1054.5 629.5H1036V630.5H1054.5M1054.5 625.5H1035.6V626.5H1054.5M1041.6 689H1035.5V690.5H1054.5M1054.5 600.5H1035.3V601.5H1054.5M1054.5 607.5H1035.3V608.5H1054.5M1054.5 599.5H1034.9V601H1035.3M1039.3 676.2H1034.8V678.5H1054.5M1054.5 610.5H1034.7V612H1043.8M1054.5 641.5H1034.2V642.5H1054.5M1054.5 589.5H1033.9V590.5H1054.5M1038.9 624H1033.5V626H1035.6M1054.5 697.5H1033.4V699H1045.5M1054.5 595.5H1033.1V596.5H1054.5M1054.5 657.5H1033V658.5H1054.5M1054.5 617.5H1032.9V618.5H1054.5M1054.5 704.5H1032.6V707.4H1036.2M1042.2 649.8H1032.4V652H1044.2M1054.5 586.5H1032.2V587.5H1054.5M1054.5 655.5H1031.6V656.5H1054.5M1054.5 691.5H1031.5V692.5H1054.5M1054.5 672.5H1031.1V673.5H1054.5M1033.9 590H1030.7V591.5H1054.5M1033.1 596H1030.1V597.5H1054.5M1040 634H1030V635.5H1054.5M1054.5 668.5H1029.9V669.5H1054.5M1054.5 592.5H1029.8V593.5H1054.5M1054.5 643.5H1029.6V644.5H1054.5M1031.6 656H1029.2V658H1033M1054.5 585.5H1028.9V587H1032.2M1044.2 702H1028.6V703.5H1054.5M1054.5 694.5H1028.3V696H1036.9M1034.9 600.2H1027.8V602.5H1054.5M1054.5 687.5H1027.3V689.8H1035.5M1028.3 695.2H1027.2V698.2H1033.4M1054.5 666.5H1027.1V667.5H1054.5M1054.5 640.5H1026.5V642H1034.2M1054.5 620.5H1026.5V621.5H1054.5M1030 634.8H1026.4V636.5H1054.5M1029.6 644H1026.2V645.5H1054.5M1054.5 609.5H1026.2V611.2H1034.7M1054.5 659.5H1025.7V660.5H1054.5M1032.9 618H1025.6V619.5H1054.5M1054.5 613.5H1025.4V614.5H1054.5M1054.5 686.5H1025.3V688.6H1027.3M1032.4 650.9H1025.3V653.5H1054.5M1026.4 635.6H1025.2V637.5H1054.5M1054.5 710.5H1025.1V711.5H1054.5M1054.5 709.5H1025V711H1025.1M1054.5 588.5H1024.8V590.8H1030.7M1038.6 683H1024.7V684.5H1054.5M1033.5 625H1024.6V627.5H1054.5M1028.6 702.8H1024.2V705.9H1032.6M1054.5 670.5H1024.1V671.5H1054.5M1054.5 661.5H1024V663.6H1038.9M1054.5 654.5H1024V657H1029.2M1054.5 615.5H1023.7V616.5H1054.5M1054.5 605.5H1023.6V606.5H1054.5M1042.9 680H1023.5V681.5H1054.5M1054.5 632.5H1023V636.6H1025.2M1054.5 685.5H1022.6V687.6H1025.3M1022.6 686.5H1021.8V692H1031.5M1023.7 616H1021.3V618.8H1025.6M1024.6 626.2H1021.2V628.5H1054.5M1054.5 639.5H1021.1V641.2H1026.5M1028.9 586.2H1020.8V589.6H1024.8M1026.2 610.4H1020.7V614H1025.4M1021.1 640.4H1020V644.8H1026.2M1021.2 627.4H1020V630H1036M1024.1 671H1020V673H1031.1M1021.8 689.3H1018.9V693.5H1054.5M1054.5 603.5H1018.7V604.5H1054.5M1029.9 669H1017.9V672H1020M1024.2 704.3H1017.8V710.2H1025M1054.5 646.5H1017.8V647.5H1054.5M1023.6 606H1017.7V608H1035.3M1025.3 652.2H1017.1V655.8H1024M1030.1 596.8H1017.1V598.5H1054.5M1034.8 677.4H1016.6V680.8H1023.5M1024.7 683.8H1016.4V691.4H1018.9M1054.5 674.5H1016.3V679.1H1016.6M1020 628.7H1016.3V631.5H1054.5M1016.3 630.1H1016.1V634.5H1023M1024 662.6H1015.8V667H1027.1M1054.5 638.5H1015.7V642.6H1020M1021.3 617.4H1015.2V621H1026.5M1018.7 604H1014.9V607H1017.7M1054.5 622.5H1014.9V632.3H1016.1M1020.8 587.9H1014.5V593H1029.8M1017.1 654H1014.2V660H1025.7M1017.1 597.6H1012.7V601.4H1027.8M1014.5 590.5H1012.5V594.5H1054.5M1020.7 612.2H1011.9V619.2H1015.2M1027.2 696.8H1011.9V700.5H1054.5M1014.2 657H1011.4V664.8H1015.8M1016.3 676.8H1010.2V687.6H1016.4M1015.7 640.5H1009.2V647H1017.8M1011.9 615.7H1008V627.4H1014.9M1012.7 599.5H1007.3V605.5H1014.9M1012.5 592.5H1006.8V602.5H1007.3M1011.9 698.6H1005.3V707.3H1017.8M1008 621.5H1004.6V643.8H1009.2M1017.9 670.5H1004.2V682.2H1010.2M1004.6 632.7H1003.4V660.9H1011.4M1006.8 597.5H998.1V646.8H1003.4M1004.2 676.3H993.5V703H1005.3M998.1 622.1H989V689.6H993.5M1054.5 741.5H1040V742.5H1054.5M1054.5 713.5H1039.3V714.5H1054.5M1054.5 732.5H1037.3V733.5H1054.5M1054.5 740.5H1036.9V742H1040M1054.5 716.5H1034.4V717.5H1054.5M1037.3 733H1033.9V734.5H1054.5M1054.5 755.5H1033.4V756.5H1054.5M1054.5 712.5H1031.6V714H1039.3M1054.5 746.5H1031.6V747.5H1054.5M1054.5 739.5H1031.3V741.2H1036.9M1054.5 720.5H1031V721.5H1054.5M1054.5 728.5H1030.5V729.5H1054.5M1054.5 763.5H1030V764.5H1054.5M1054.5 750.5H1029.7V751.5H1054.5M1054.5 723.5H1029.6V724.5H1054.5M1031.6 747H1029.3V748.5H1054.5M1054.5 757.5H1029.2V758.5H1054.5M1054.5 754.5H1027.8V756H1033.4M1054.5 762.5H1027.3V764H1030M1029.6 724H1027V725.5H1054.5M1034.4 717H1026.4V718.5H1054.5M1054.5 749.5H1024.8V751H1029.7M1054.5 744.5H1024.8V745.5H1054.5M1054.5 737.5H1024.4V738.5H1054.5M1054.5 727.5H1024.2V729H1030.5M1054.5 735.5H1023.9V736.5H1054.5M1054.5 743.5H1023.9V745H1024.8M1031 721H1022.9V722.5H1054.5M1054.5 715.5H1022.8V717.8H1026.4M1024.8 750.2H1022.7V752.5H1054.5M1033.9 733.8H1021.6V736H1023.9M1031.6 713.2H1020.5V716.6H1022.8M1021.6 734.9H1020.2V738H1024.4M1022.9 721.8H1020.2V724.8H1027M1027.8 755.2H1020.1V758H1029.2M1054.5 726.5H1019.9V728.2H1024.2M1054.5 730.5H1019.6V731.5H1054.5M1054.5 759.5H1019.1V760.5H1054.5M1023.9 744.2H1017.6V747.8H1029.3M1031.3 740.4H1017.3V746H1017.6M1022.7 751.4H1016V753.5H1054.5M1020.2 723.2H1015.6V727.4H1019.9M1054.5 761.5H1015.6V763.2H1027.3M1020.2 736.4H1014.1V743.2H1017.3M1016 752.4H1012V756.6H1020.1M1019.1 760H1011.7V762.4H1015.6M1015.6 725.3H1010.1V731H1019.6M1014.1 739.8H1008.4V754.5H1012M1020.5 714.9H1007.9V719.5H1054.5M1010.1 728.2H1002.6V747.2H1008.4M1007.9 717.2H996.9V737.7H1002.6M996.9 727.4H995V761.2H1011.7M1054.5 808.5H1043.4V809.5H1054.5M1054.5 773.5H1042.5V774.5H1054.5M1054.5 804.5H1041.1V805.5H1054.5M1054.5 799.5H1039.7V800.5H1054.5M1054.5 798.5H1039.6V800H1039.7M1054.5 783.5H1038.8V784.5H1054.5M1054.5 780.5H1037.5V781.5H1054.5M1054.5 813.5H1035.6V814.5H1054.5M1054.5 803.5H1035.5V805H1041.1M1054.5 778.5H1034.8V779.5H1054.5M1054.5 791.5H1033.8V792.5H1054.5M1054.5 777.5H1031.9V779H1034.8M1054.5 770.5H1031.3V771.5H1054.5M1054.5 806.5H1031.1V807.5H1054.5M1054.5 790.5H1029.8V792H1033.8M1035.5 804.2H1029.5V807H1031.1M1054.5 787.5H1027.6V788.5H1054.5M1031.3 771H1025.4V772.5H1054.5M1054.5 797.5H1025.2V799.2H1039.6M1031.9 778.2H1025.2V781H1037.5M1054.5 776.5H1024.5V779.6H1025.2M1054.5 765.5H1024.4V766.5H1054.5M1043.4 809H1024.2V810.5H1054.5M1025.4 771.8H1023.3V774H1042.5M1054.5 796.5H1023V798.4H1025.2M1054.5 782.5H1022.6V784H1038.8M1024.4 766H1022.2V767.5H1054.5M1029.8 791.2H1021.4V793.5H1054.5M1054.5 802.5H1021.3V805.6H1029.5M1022.2 766.8H1020.8V768.5H1054.5M1054.5 812.5H1020.6V814H1035.6M1054.5 786.5H1020V788H1027.6M1023 797.4H1018.8V801.5H1054.5M1024.5 778.1H1016.6V783.2H1022.6M1054.5 769.5H1016.2V772.9H1023.3M1018.8 799.5H1014.2V804.1H1021.3M1054.5 811.5H1013.8V813.2H1020.6M1020.8 767.6H1012.1V771.2H1016.2M1054.5 794.5H1011.4V795.5H1054.5M1054.5 775.5H1011.1V780.7H1016.6M1054.5 785.5H1009.8V787.2H1020M1012.1 769.4H1008.7V778.1H1011.1M1054.5 789.5H1007.8V792.4H1021.4M1011.4 795H1006.4V801.8H1014.2M1007.8 790.9H1005.8V798.4H1006.4M1024.2 809.8H1004.9V812.4H1013.8M1008.7 773.7H997.5V786.4H1009.8M1005.8 794.7H995.5V811.1H1004.9M997.5 780.1H990V802.9H995.5M995 744.3H976V791.5H990M1054.5 853.5H1040.4V854.5H1054.5M1054.5 851.5H1039.4V852.5H1054.5M1054.5 843.5H1039V844.5H1054.5M1054.5 841.5H1038.9V842.5H1054.5M1054.5 840.5H1037.2V842H1038.9M1054.5 848.5H1036.8V849.5H1054.5M1054.5 819.5H1036.6V820.5H1054.5M1037.2 841.2H1036.5V844H1039M1040.4 854H1035.7V855.5H1054.5M1054.5 850.5H1035.7V852H1039.4M1054.5 825.5H1035.6V826.5H1054.5M1054.5 846.5H1034.9V847.5H1054.5M1054.5 823.5H1034V824.5H1054.5M1035.6 826H1033.3V827.5H1054.5M1054.5 837.5H1032.8V838.5H1054.5M1036.6 820H1032.4V821.5H1054.5M1034 824H1031.9V826.8H1033.3M1054.5 815.5H1031.8V816.5H1054.5M1054.5 839.5H1030.7V842.6H1036.5M1054.5 818.5H1030.3V820.8H1032.4M1030.7 841.1H1030.2V845.5H1054.5M1054.5 830.5H1029.8V831.5H1054.5M1032.8 838H1029.3V843.3H1030.2M1034.9 847H1028.7V849H1036.8M1054.5 829.5H1027.5V831H1029.8M1031.9 825.4H1027.4V828.5H1054.5M1054.5 835.5H1026.6V836.5H1054.5M1035.7 851.2H1025.2V854.8H1035.7M1030.3 819.6H1024.5V822.5H1054.5M1054.5 832.5H1024.4V833.5H1054.5M1024.5 821.1H1022.8V826.9H1027.4M1029.3 840.6H1020.4V848H1028.7M1022.8 824H1020.3V830.2H1027.5M1020.4 844.3H1018V853H1025.2M1020.3 827.1H1017.3V833H1024.4M1026.6 836H1016.9V848.7H1018M1031.8 816H1015.5V817.5H1054.5M1017.3 830.1H1013.5V834.5H1054.5M1013.5 832.3H1008.7V842.3H1016.9M1015.5 816.8H999.6V837.3H1008.7M1054.5 860.5H1042.3V861.5H1054.5M1054.5 859.5H1041.3V861H1042.3M1054.5 885.5H1040.8V886.5H1054.5M1054.5 864.5H1040V865.5H1054.5M1040.8 886H1036.8V887.5H1054.5M1054.5 863.5H1036.5V865H1040M1054.5 862.5H1036.2V864.2H1036.5M1054.5 890.5H1034.5V891.5H1054.5M1054.5 858.5H1034.1V860.2H1041.3M1054.5 884.5H1033.6V886.8H1036.8M1054.5 888.5H1032.6V889.5H1054.5M1054.5 877.5H1031.9V878.5H1054.5M1054.5 892.5H1031.6V893.5H1054.5M1036.2 863.4H1030.5V866.5H1054.5M1054.5 869.5H1030V870.5H1054.5M1054.5 883.5H1028.8V885.6H1033.6M1054.5 879.5H1028.7V880.5H1054.5M1034.5 891H1027.1V893H1031.6M1028.8 884.6H1025.9V889H1032.6M1054.5 868.5H1024.9V870H1030M1054.5 856.5H1024.8V857.5H1054.5M1034.1 859.4H1023.2V864.9H1030.5M1028.7 880H1022.2V881.5H1054.5M1025.9 886.8H1022.2V892H1027.1M1054.5 871.5H1021V872.5H1054.5M1023.2 862.2H1020.4V867.5H1054.5M1024.9 869.2H1019.8V872H1021M1054.5 873.5H1019.7V874.5H1054.5M1031.9 878H1019.5V880.8H1022.2M1019.8 870.6H1016.6V874H1019.7M1054.5 882.5H1012.3V889.4H1022.2M1054.5 876.5H1011.2V879.4H1019.5M1024.8 857H1010.4V864.8H1020.4M1010.4 860.9H1008.6V872.3H1016.6M1011.2 877.9H1007.8V885.9H1012.3M1054.5 875.5H1007.3V881.9H1007.8M1008.6 866.6H990.5V878.7H1007.3M999.6 827H980.7V872.7H990.5M976 767.9H971.2V849.8H980.7M989 655.9H970.5V808.9H971.2M1015 583.2H969.7V732.4H970.5M1012 575.4H960V657.8H969.7M1010 566.2H949.5V616.6H960M956 237.9H948.5V591.4H949.5"/>
<defs><linearGradient id="cb" x1="0" y1="0" x2="0" y2="1"><stop offset="0" stop-color="#ff0000"/><stop offset="0.5" stop-color="#000"/><stop offset="1" stop-color="#00ff00"/></linearGradient></defs><rect x="1708.7" y="122.8" width="5" height="81.6" fill="url(#cb)"/><text x="1716" y="132.2" font-family="Liberation Sans, Arial, sans-serif" font-size="21.5">2</text><text x="1716" y="151.4" font-family="Liberation Sans, Arial, sans-serif" font-size="21.5">1</text><text x="1716" y="171.6" font-family="Liberation Sans, Arial, sans-serif" font-size="21.5">0</text><text x="1716" y="191" font-family="Liberation Sans, Arial, sans-serif" font-size="21.5">-1</text><text x="1716" y="211" font-family="Liberation Sans, Arial, sans-serif" font-size="21.5">-2</text>
<text transform="translate(1101.3 897) rotate(90)" font-family="Liberation Sans, Arial, sans-serif" font-size="21.5">Sample_LC_gill_2</text><text transform="translate(1209.8 897) rotate(90)" font-family="Liberation Sans, Arial, sans-serif" font-size="21.5">Sample_LC_gill_1</text><text transform="translate(1318.4 897) rotate(90)" font-family="Liberation Sans, Arial, sans-serif" font-size="21.5">Sample_LC_gill_3</text><text transform="translate(1426.9 897) rotate(90)" font-family="Liberation Sans, Arial, sans-serif" font-size="21.5">Sample_HC_gill_2</text><text transform="translate(1535.5 897) rotate(90)" font-family="Liberation Sans, Arial, sans-serif" font-size="21.5">Sample_HC_gill_1</text><text transform="translate(1644 897) rotate(90)" font-family="Liberation Sans, Arial, sans-serif" font-size="21.5">Sample_HC_gill_3</text>
<polygon fill="#838a87" points="437,872 446,882 456,892 466,901 471,905.2 477,901 487,892 496,883 504,874 507,869 507,912 437,912"/>
<polygon fill="#1c86ee" points="306,882.4 437,882.4 437.5,882.4 437.5,911.7 437,911.7 411.8,911.5 382.2,909.7 346.7,905.6 313.5,902 306,899.6"/>
<polygon fill="#1c86ee" points="506.5,882.4 629,882.4 629,898.5 617.8,900.8 583,905.4 549,910 507,911.5 506.5,911.5"/>
<path d="M296.3 894.5h0M305 888.3h0M277.4 892.2h0M260.3 890h0M306.2 891h0M277.6 887.9h0M274.8 889h0M289.3 890.8h0M317.7 895.5h0M296.1 895.4h0M272.5 887h0M295.5 886.3h0M262.1 888.6h0M287 893.7h0M296.5 890.9h0M288.8 888.1h0M260.7 886.9h0M300.1 887.9h0M281.4 885.9h0M308.1 887.6h0M275.5 892h0M289.6 893.4h0M297.1 893.1h0M265.3 888.9h0M289.5 893.6h0M281 890.5h0M263.4 888h0M278.7 887h0M307.3 890.1h0M316.8 893h0M295.1 891.9h0M299.2 887.4h0M285.5 887.9h0M283.3 886.7h0M316.1 888.5h0M299 888.9h0M310.7 893.4h0M267.6 890.9h0M314.8 896.6h0M293 887.2h0M271.2 891.8h0M292 887.5h0M311.3 893.2h0M293 889.4h0M283.8 887.8h0M262.2 890.5h0M287.1 890.6h0M278.7 891.5h0M261.5 887.8h0M261.8 886.5h0M316.1 893.8h0M284.8 890.2h0M310.6 889.8h0M294.2 892.3h0M280.6 889.9h0M304.4 895.5h0M268.8 891.6h0M260.3 889.6h0M307 887.4h0M284.3 892.5h0M260.8 889h0M306 891.4h0M302.1 888.2h0M271.5 888.2h0M270.4 888.1h0M315 892.7h0M279.7 887.9h0M315.2 891.2h0M316.9 892.1h0M290.2 893.9h0M303.1 892h0M284.7 893.1h0M283.9 893.4h0M264 888.2h0M290.1 894.3h0M274.6 891.4h0M299.2 893.1h0M296.5 895.3h0M279.3 888.9h0M271.8 886.2h0M272.3 891.9h0M308.7 887.1h0M295 890.4h0M294.5 892.1h0M277.8 892.9h0M287 891.2h0M296.8 887.7h0M263.6 888.1h0M304.3 894.5h0M302.3 887.1h0M313 895.2h0M310.9 891.9h0M313.1 886.4h0M261.8 886h0M274.7 887.6h0M270.9 889.5h0M262.3 889h0M269.6 890.1h0M261.2 887.5h0M314.4 892.2h0M307.1 893.1h0M295.4 887.7h0M293.3 886.3h0M306.5 896.3h0M309.5 886.5h0M279.6 888.3h0M266.5 889.5h0M306.3 889.3h0M310 894.9h0M267.5 890.4h0M311.2 888.2h0M293.3 891.8h0M295.3 886.8h0M298.3 892.1h0M307.8 894.7h0M279 891.3h0M310.3 896h0M269.4 886.1h0M297.7 888h0M292.7 894.6h0M282 887.9h0M286.5 891.4h0M265.9 888.1h0M267.8 889.8h0M308.2 890.1h0M281.6 890.1h0M272.5 887.5h0M279.1 889.3h0M264.7 890.1h0M293.6 888.7h0M264.5 890.1h0M267.6 886.7h0M267.6 886.4h0M312.6 889h0M277.8 892h0M296 887.7h0M285.2 893.2h0M281.8 891.4h0M265.6 890h0M305 894.7h0M299.1 889.6h0M263.7 888.7h0M303.9 887.9h0M275.4 889.6h0M303.4 895.3h0M267.3 887h0M306.4 892.9h0M301.8 896.2h0M314.5 895.8h0M305.1 890.1h0M648.9 887.6h0M637.3 894.8h0M674.2 889.7h0M635.4 890.7h0M622.7 896.7h0M635.2 890.3h0M629.9 894.7h0M633.9 895.9h0M635.7 887.1h0M652.5 896.7h0M626.6 894.8h0M628.5 897.4h0M629.4 886.6h0M690.1 886.4h0M629.2 892.9h0M638.4 894.7h0M632.4 897.1h0M624.7 895.6h0M627.4 891.6h0M622.8 889.6h0M660.9 893.1h0M629.4 886.1h0M660.4 888.1h0M657.9 887.9h0M633.6 885.8h0M656.1 886.8h0M624.1 896.9h0M636.5 887.7h0M662.6 888.2h0M642.2 888.8h0M651.4 892.6h0M654.2 889.9h0M675.6 893.7h0M626.3 887.2h0M625.8 898.3h0M659.8 887.6h0M640.3 891.5h0M636.1 885.9h0M629.3 893.2h0M625.9 888.5h0M668.7 894.3h0M636.3 895.8h0M671.3 892.4h0M642.4 893.7h0M626.7 889.4h0M623.4 895.5h0M624.6 897.6h0M641.7 889.4h0M661 887.1h0M635.3 886.6h0M641.3 892.4h0M669.5 888.2h0M660.6 893h0M664.4 895.3h0M645.9 890.3h0M664.3 894.1h0M630.8 894h0M631.1 892.5h0M636.3 886.2h0M631.3 885.6h0M664.9 890.3h0M630.6 894.7h0M651.1 893.8h0M631.2 892.6h0M642.8 896.7h0M624.1 891.4h0M640.9 892.1h0M623.2 893.3h0M625.6 888h0M668.3 887.4h0M648 894.2h0M643.2 892.1h0M679.2 889.7h0M637.3 895.6h0M637 893.4h0M645.8 892h0M633.8 894.8h0M640.6 891.1h0M665 890.6h0M624.4 896.4h0M640.2 895.7h0M643.4 890.8h0M636.4 885.8h0M645.4 895.6h0M633.6 892.5h0M635.1 893.9h0M634.3 890.7h0M625.1 889.3h0M627.7 891h0M646.9 889.8h0M667.2 895.1h0M632 890.2h0M632.5 896.7h0M657.7 892.9h0M626.2 896.8h0M628.2 891.9h0M647.6 890.3h0M641.4 895.5h0M630.6 895.3h0M642.1 889.9h0M658.3 887.6h0M635.8 894.3h0M663.2 886h0M658.1 894.4h0M640.1 886.2h0M696.2 887.3h0M645.1 889.9h0M640.8 888.6h0M225 889.6h0M231.5 885.4h0M229.7 892.8h0M713.6 892h0M719 888h0M723 889h0M727 887.5h0M731 888h0M743 886.8h0M757.2 885.4h0M760 885.6h0M784.7 886.8h0M682 892h0M686 891.5h0M690 892.5h0M694 891h0M698 892h0M141.3 885h0M141.3 887h0M141.3 889h0M141.3 891h0M141.3 893h0M141.3 895h0M141.3 897h0M141.3 899h0M141.3 901h0M141.3 903h0M141.3 905h0M141.3 907h0M141.3 909h0M858 885h0M858 887h0M858 889h0M858 891h0M858 893h0M858 895h0M858 897h0M858 899h0M858 901h0M858 903h0M858 905h0M858 907h0M858 909h0" stroke="#1c86ee" stroke-width="5.8" stroke-linecap="round" fill="none"/>
<polygon fill="#00ff00" points="318,882.4 330,880 342,874 353,866 375,853.5 390,846 397,842.6 405.6,831.7 412,827.3 418,834 423,844.8 428,853 434,866.6 437,872 437.5,882.4 318,882.4"/>
<path d="M386.5 821.1h0M399.5 838.8h0M422.4 820.2h0M390.8 821.2h0M392.7 812.3h0M399.3 808.4h0M407.3 820.6h0M403 819.6h0M391.3 809.7h0M397.2 814.9h0M402.8 821.9h0M383.7 822.9h0M383.9 814h0M396.5 795h0M401.1 824h0M398.1 816.5h0M395.5 809.3h0M396.8 814.8h0M401.1 806.3h0M402.8 823.9h0M398.3 816.3h0M406.6 800.4h0M405.5 825.2h0M403.4 827h0M392.2 818.6h0M407.6 827.6h0M402.5 802.3h0M406.5 837.2h0M412.1 825h0M381.3 834.3h0M398.2 789.1h0M404.5 802.6h0M384.4 813.7h0M415.3 817.2h0M403.3 844.7h0M419.1 820.7h0M397.1 805.6h0M391.7 827.5h0M404.7 823.4h0M411.9 812h0M399.3 831.5h0M407 835.9h0M404.8 818h0M404.3 809h0M380.3 829.5h0M389.1 850h0M362.8 841.3h0M380.4 834.8h0M353.9 841.6h0M404.4 851h0M380.4 845.8h0M402.1 810.1h0M388 853.1h0M400.9 868.1h0M408.2 850.1h0M394.8 856.2h0M381.4 845.5h0M404.5 871.4h0M387.5 845.4h0M393.2 863.5h0M389.5 865.1h0M374.5 843.6h0M386.8 856.2h0M406.7 826.4h0M375.4 850.4h0M379.5 826.2h0M406.6 852.4h0M397.9 839.8h0M406.5 842.9h0M407.5 834.1h0M376.3 848.7h0M378.8 854.8h0M394.2 834h0M391.2 841.4h0M404.7 837.8h0M383 861.7h0M425.8 872h0M391 848.8h0M414.5 844.4h0M374.4 847.5h0M397.2 835.2h0M363.7 827.3h0M400.6 836.1h0M387.7 848.8h0M399.9 841.6h0M398 834.4h0M384.2 832.7h0M408.1 845.6h0M378.2 841.4h0M386.5 855.1h0M364.5 832.5h0M384 878.9h0M405.3 844.6h0M401.4 872.7h0M386.3 841.2h0M409.4 852.4h0M400.7 839.4h0M420.8 868.2h0M399.1 854.9h0M357.6 854.3h0M386.9 851.6h0M400.9 841.6h0M363 850.8h0M378.1 841.7h0M380.3 841.6h0M353 861.8h0M394.1 860.4h0M421.7 846.3h0M361.2 834.4h0M370.7 839.5h0M391.3 820h0M395.5 826.4h0M394.8 844.6h0M385 845.1h0M381.4 838h0M363.1 845.6h0M419.5 871.7h0M411.1 855.2h0M379.2 864.8h0M389.1 845.1h0M385.3 847.2h0M383 844.9h0M372.6 841.1h0M386.2 852.9h0M401.3 831.5h0M386.7 857.9h0M394.3 847.6h0M414.9 837.2h0M391.3 839.2h0M413.8 820.6h0M379.3 839.1h0M400.6 853.9h0M412.3 825.5h0M402 842.2h0M346.7 858.6h0M341.6 821.9h0M352.6 830h0M347 856.2h0M366.2 873.2h0M356 829.5h0M344.9 838.1h0M335.6 857.1h0M347.1 823.3h0M373.9 849.4h0M367.1 852.5h0M372.6 851.5h0M384.7 856.9h0M367.8 856.7h0M330.9 848.7h0M354.8 853.9h0M332.8 873.9h0M362.1 834h0M325.8 847.1h0M358.2 840.9h0M361.8 842h0M371 840.9h0M359.2 864.7h0M411.4 836.9h0M350.7 839.2h0M375.7 834.9h0M350.3 850.6h0M340.4 837.6h0M350.5 821.6h0M331.1 845.2h0M363 848.4h0M324.5 844.5h0M376 858.8h0M358.4 838.6h0M372.6 842.9h0M336.6 839.8h0M389 854.1h0M383.2 844.3h0M378.8 842.6h0M375.3 844h0M358.3 855.6h0M384.2 844.2h0M325.2 847.1h0M360.3 852.5h0M386.3 855.4h0M376.3 835.6h0M375.5 854.5h0M363.1 876h0M341.5 849.4h0M369.2 861.4h0M351.3 855.3h0M354.4 852.7h0M357.4 835h0M359.6 863.3h0M340.7 847.6h0M338.6 847.2h0M326.6 847.3h0M372.6 857.4h0M340.5 861.5h0M324.6 878.6h0M289 872.7h0M320.8 876.9h0M326.7 851.9h0M328.9 868.8h0M322.9 865.9h0M309 834.4h0M344.5 868.4h0M325.7 860.8h0M347.9 854.5h0M304.3 857.7h0M351.7 843.4h0M351.8 852.3h0M294.5 875.1h0M319.6 844.4h0M313 871.2h0M351.8 854.9h0M332.2 868.6h0M305.9 864.3h0M321.2 853.6h0M309.7 860.8h0M322.7 853.2h0M311.4 873.4h0M327.3 870.6h0M352 867.1h0M378.8 850.1h0M342.2 856.2h0M273.1 848.4h0M338.6 869.5h0M340.4 859.1h0M333.4 867.8h0M320.1 872.3h0M265.5 867.6h0M296.1 871.5h0M316.3 849.3h0M331.3 849.1h0M299.2 841.2h0M321.3 866h0M347.6 858.3h0M348.2 860.2h0M319.7 866.9h0M348.5 855.9h0M315.9 858.1h0M324.1 849.2h0M347.7 855.2h0M333.6 850.1h0M331 864.7h0M346 852.1h0M312.4 865.2h0M323.5 860.6h0M314.8 838.3h0M316.4 833.4h0M331.3 851.3h0M304.1 857.4h0M328.8 842.8h0M278.3 847.2h0M271 848.4h0M361.8 847.3h0M338.3 843.5h0M329.5 856.2h0M320.5 866.8h0M365.9 862.3h0M325.1 848.3h0M336.6 857h0M342.8 859.5h0M365.5 836.2h0M279.1 872.7h0M278 854.3h0M279.7 847.8h0M307.9 850.8h0M267.5 858.5h0M305.1 854h0M271.2 872.7h0M302.3 858.9h0M262.6 846h0M271 838.5h0M300 856.1h0M308.5 850.3h0M302.4 875.7h0M270.1 852.5h0M282.8 845.4h0M314.4 836.5h0M262.9 860h0M280.5 864.8h0M290.4 860.7h0M307.7 839.5h0M285 855.1h0M287.7 865.4h0M266.8 855.9h0M300.9 866.8h0M331.2 846.9h0M300.7 865.4h0M280.8 857h0M280.7 856.9h0M299.9 858.6h0M276.2 849.8h0M284 853.2h0M281.4 874.5h0M292.3 868.6h0M292.1 863.7h0M282.5 859.6h0M300.2 851.1h0M311.8 863.4h0M270 857.6h0M271.5 864.8h0M270.6 875.6h0M269.4 838h0M270.4 840.9h0M284.2 874.7h0M298 848.3h0M291.4 863h0M310.9 864.5h0M292.1 869.8h0M272.7 851.4h0M286 852.6h0M283.8 864.1h0M419 846h0M423.5 860.6h0M416.1 838.1h0M406.9 836.9h0M424.3 848.5h0M411.9 843.5h0M420.3 854h0M415.3 845h0M405.5 834.2h0M417.3 850.6h0M417 838.3h0M419.5 847.9h0M419.3 825.5h0M418.8 837.7h0M415.6 850.7h0M425.1 858.8h0M416 859.1h0M429.4 861.6h0M418.6 857.9h0M409.1 850.5h0M415.8 843.6h0M406.1 837.3h0M419.8 858.7h0M418.5 838h0M423.2 845h0M424.8 869h0M419.7 830h0M413.1 830.5h0M410.4 863.7h0M421.8 829.8h0M425.2 863.1h0M417.1 839.9h0M417.3 851.4h0M425.1 862.2h0M429.7 862.2h0M407.8 846.4h0M422.5 843.4h0M412.6 865.3h0M425.3 850.6h0M427.4 860.8h0M422.7 818.5h0M414.6 842.5h0M412.1 850.4h0M410.9 872.3h0M311.9 816.5h0M339.5 841.4h0M301.8 846.9h0M310.5 821.2h0M337.1 846.6h0M304.6 840h0M326.3 877.4h0M301.7 855.8h0M327.9 833.1h0M358.9 848.4h0M380.7 839.9h0M306 826.9h0M350.4 843.7h0M385.9 841.3h0M372.4 857.8h0M336.6 812.7h0M282.8 813.4h0M393.7 822.3h0M379.3 843.8h0M398.6 850h0M325.9 832h0M333.4 837.6h0M308.8 834.5h0M394.4 809.5h0M340.3 821.4h0M391.7 844.8h0M396.8 843.7h0M360 860.8h0M396.7 841.1h0M355.2 864.6h0M387.9 846h0M369.4 857.9h0M382.3 851.1h0M314.2 879.9h0M374.3 855.2h0M339.5 875.8h0M360.2 860.6h0M321.2 879.9h0M394.1 844.9h0M423.7 846.9h0M356.3 864.9h0M325.1 879.9h0M389.5 845.4h0M327.9 879.9h0M423.5 845.6h0M327.3 879.9h0M357.2 862.9h0M373.8 852.8h0M326.7 879.9h0M351.8 866.3h0M346.4 870.5h0M401.2 838.7h0M435.3 869.6h0M357.4 864.2h0M410.8 830h0M329.5 879h0M384.5 848.8h0M366.1 856.9h0M348 869.2h0M414.7 832.1h0M405.3 830.4h0M328.7 879.9h0M348.6 870.7h0M414.4 830.1h0M436.1 871.5h0M388.4 846.5h0M421 839.8h0M435 868.5h0M404.6 831.8h0M392.6 844h0M339.7 874.4h0M358.3 864.9h0M389.9 845.4h0M427.8 851.6h0M349.7 870.1h0M361.4 859.8h0M314.8 879.9h0M399.1 841.4h0M367.4 858.4h0M411.7 827.2h0M341.2 873.2h0M394.5 842.3h0M396.1 841.4h0M370 855.7h0M335.6 876.8h0M141.3 700.9h0M141.3 281.4h0M141.3 403.1h0M263 432.6h0M141.3 488.2h0M150 482.9h0M281.5 502.5h0M141.3 556h0M141.3 599.2h0M301.8 615.5h0M250 631.8h0M141.3 653h0M230 660.3h0M141.3 667.8h0M214.9 681.5h0M227.2 687.3h0M344.4 679.5h0M201.5 699.8h0M353 700.9h0M356.1 708.7h0M141.3 711.2h0M141.3 724h0M141.3 728.5h0M188.9 736.2h0M141.3 735.9h0M141.3 743.5h0M373.6 731.2h0M378.7 731.2h0M314.5 739.7h0M141.3 753.4h0M373.6 753.4h0M271.5 762.5h0M314.1 761.2h0M223.7 769.2h0M329.6 772.8h0M141.3 766.4h0M387.2 773.6h0M390 776.7h0M141.3 778.3h0M141.3 782.6h0M220.4 785.7h0M206.4 788.6h0M395 784.5h0M397 788.4h0M393 794.2h0M374.4 787.6h0M384.1 791.1h0M380.6 798.1h0M367.8 799.3h0M234.3 812.2h0M154.7 833.5h0M208.4 848.3h0M215.8 850.7h0M234.3 863.1h0M240.8 866.9h0M229.7 872.4h0M238.9 870.6h0M246.3 840.9h0M248.2 849.3h0M251.9 849.3h0M254.7 829.8h0M273.7 805.2h0M288 805.2h0M298.2 806.3h0M296.3 815h0M271.7 762.6h0M141.3 790h0M141.3 792h0M141.3 794h0M141.3 796h0M141.3 798h0M141.3 800h0M141.3 802h0M141.3 804h0M141.3 806h0M141.3 808h0M141.3 810h0M141.3 812h0M141.3 814h0M141.3 816h0M141.3 818h0M141.3 820h0M141.3 822h0M141.3 824h0M141.3 826h0M141.3 828h0M141.3 830h0M141.3 832h0M141.3 834h0M141.3 836h0M141.3 838h0M141.3 840h0M141.3 842h0M141.3 844h0M141.3 846h0M141.3 848h0M141.3 850h0M141.3 852h0M141.3 854h0M141.3 856h0M141.3 858h0M141.3 860h0M141.3 862h0M141.3 864h0M141.3 866h0M141.3 868h0M141.3 870h0M141.3 872h0M141.3 874h0M141.3 876h0M141.3 878h0M141.3 880h0" stroke="#00ff00" stroke-width="5.8" stroke-linecap="round" fill="none"/>
<polygon fill="#ff0000" points="507,871 510.5,863 514.5,854.8 518,846 521.3,838.8 529,836 537.4,836.5 543,842 549,848 560.4,854.8 571.9,864 583.4,873.2 594.8,880 598,882.4 506.5,882.4"/>
<path d="M522.8 843h0M526.7 844h0M532.9 838.8h0M536.1 830.2h0M526 818.8h0M525.6 821.8h0M528.6 826.4h0M531 840.5h0M520.6 843.5h0M547.1 844.5h0M526.5 850.7h0M514.9 851h0M523.4 808.2h0M556.5 851.8h0M527.9 837h0M534.7 838.2h0M542 836.8h0M553.5 828.8h0M532.6 816.8h0M517.5 849.3h0M520.6 841.3h0M529.4 825.6h0M526.5 830.9h0M525.1 843.5h0M536.5 830.2h0M520.9 838.8h0M529 846.3h0M556.6 844.4h0M529.7 834.3h0M521.4 826.9h0M525.7 843.4h0M526 834h0M517.8 852.4h0M535.1 853.9h0M538 850.9h0M527.5 843.2h0M557.1 823.8h0M541.8 853h0M534.2 843.7h0M542.8 829.3h0M534.2 827.1h0M523.1 829.7h0M528.5 837.5h0M534.6 821.5h0M550.3 847.8h0M537.4 832.3h0M548.7 833.9h0M555.9 801.9h0M560.6 867.8h0M523.5 840.3h0M555.3 824.4h0M569.7 809h0M552.3 847h0M547.2 820h0M551.7 819.6h0M572.2 813h0M562.6 808h0M559.6 824.5h0M534.6 819.6h0M572.1 809.9h0M534.7 846.7h0M551.7 848.2h0M554.7 813.3h0M549 843.7h0M563.5 826h0M550.7 824.4h0M541.7 853.8h0M550.1 809.7h0M543.1 836.5h0M559.2 824h0M540.4 826.3h0M525.9 807.3h0M561.5 819.1h0M555.4 843.5h0M559.4 826.3h0M580.6 835.6h0M544.9 836.5h0M555.9 813.7h0M551.1 823.6h0M521.7 823.5h0M545.9 819.7h0M526.3 820.9h0M549.4 827.5h0M533.7 835.1h0M532.5 822.8h0M568.8 816h0M542.6 841.4h0M544.5 821.7h0M553.2 841.1h0M554.5 831.5h0M556.8 834.8h0M574.6 834.1h0M571.9 851.3h0M558.8 847.7h0M595.2 850.3h0M560.2 845.1h0M555.9 849.6h0M583.2 835.1h0M566.8 860.8h0M562.4 848.5h0M554.3 835.1h0M562.1 874.3h0M563.9 839.1h0M561.6 843.8h0M579.8 848.5h0M600.9 848.8h0M591.7 849.6h0M579.1 827.2h0M568.1 845.1h0M566.4 818h0M583.2 841h0M563.4 842.7h0M566.6 851.3h0M550.9 833.9h0M574.4 847.9h0M564.4 838.5h0M557.5 845.2h0M587.7 832.2h0M592.8 857h0M563.2 856.2h0M548 823.5h0M550.7 840.7h0M565.1 839.3h0M571.5 818.2h0M577.4 827.5h0M560.1 840.6h0M552.7 828.2h0M554.9 845.8h0M578.8 853.3h0M555.1 835.7h0M556.2 851.8h0M539.4 862.1h0M562.7 835.8h0M575.1 859.4h0M575.1 859.7h0M572 862h0M588.7 844.7h0M591.6 848.1h0M571.3 834h0M565.7 856.1h0M550.3 854.4h0M575.2 849.6h0M536.9 844.7h0M579.7 836.1h0M596.4 829.8h0M605.7 848.7h0M608.9 835.7h0M606.1 853.4h0M607.9 845.8h0M581.7 848.2h0M590.6 844.8h0M614 875h0M583.7 837h0M613.8 868.2h0M608.1 868.7h0M581.1 854.1h0M572.9 840.4h0M610.7 848.6h0M631.5 856.8h0M584.8 864.8h0M623.8 861.3h0M575.5 860.1h0M617 850.6h0M582.6 867.2h0M597.2 843.9h0M588.9 847.7h0M599.7 857.2h0M613.4 863.8h0M570 860.5h0M609.4 861h0M611.5 850h0M579.8 866.2h0M578 832.2h0M611.4 848h0M590.1 840.6h0M573.8 843.3h0M589.2 860.1h0M558.2 864.3h0M576.1 844.3h0M605.8 855.2h0M570.4 876.3h0M581.2 858.7h0M598.2 871.5h0M587.7 867.1h0M583.1 868.3h0M582.8 852h0M625.3 859.5h0M600.8 847h0M606.8 843h0M613.1 869.3h0M585.8 849.1h0M597.8 856.2h0M579.4 862.2h0M562.3 851.2h0M588.5 853h0M599.9 842.5h0M604.4 854h0M584.6 841h0M576.1 860h0M607.7 865.6h0M644.1 875.3h0M653.1 862h0M605.5 875.2h0M630.6 876.2h0M625.2 877h0M640.2 872.2h0M634.1 869h0M629.2 867.3h0M642.8 859.9h0M656.2 863.9h0M642.7 864.1h0M619.4 852.2h0M612.1 861.8h0M663.8 867.1h0M641.8 855h0M631.3 871.7h0M657.4 858h0M635.9 868h0M606.6 864.8h0M620.3 841.7h0M635.8 870.4h0M617.1 851.6h0M651.6 867.7h0M643.3 879.1h0M615.6 873.1h0M620.7 864.4h0M623.5 865h0M645.1 866.2h0M622.2 862.2h0M631.1 856.1h0M616 864.5h0M614.8 863.8h0M648.9 869.5h0M630.8 864.1h0M630.5 868.1h0M650.4 864.8h0M662.8 856.2h0M637.5 855h0M657.7 861.7h0M624 874.2h0M647.6 853.9h0M618.8 851.1h0M627.5 864h0M618.7 858.2h0M643.1 861.3h0M615.2 867h0M642.5 872.4h0M632.9 866.7h0M631.3 874.3h0M651.8 866.5h0M656.7 865.8h0M622 873.4h0M655.2 866.6h0M667.7 879h0M630.3 861h0M636.7 857.4h0M638.5 863.5h0M621.5 868.3h0M627 857.1h0M666.5 861.9h0M648.7 873.7h0M664.6 865h0M650.8 860.6h0M681.5 873.8h0M630.1 868h0M662.8 872.3h0M640.3 867.2h0M626.9 870.2h0M651.8 849.2h0M637.9 869h0M627.4 860.2h0M643.4 871.1h0M647 860h0M664.2 863.1h0M519.3 848.6h0M522.9 861.9h0M525.3 854.7h0M522.5 846.5h0M513.9 852h0M520.6 863.9h0M517.1 846.1h0M515.9 847.7h0M527.7 853.3h0M517.3 847h0M512.3 867h0M520.2 859.2h0M518.2 856.4h0M523.7 851.8h0M526.1 843.4h0M512.9 856.7h0M523.7 846h0M515.7 852.2h0M518.6 848.7h0M525.4 843.6h0M513.2 861.5h0M517 870h0M511.6 856.9h0M560.3 800.3h0M544.9 813.3h0M557.7 804.1h0M553.3 812.3h0M542.6 806.1h0M545.2 792.2h0M554.7 785.6h0M554.4 818.4h0M544.3 794.3h0M543.2 811.6h0M550.9 809h0M552.9 797.2h0M546.9 783h0M551.1 807.1h0M541.7 821.3h0M550.5 765.6h0M545.3 784.6h0M553.5 839.8h0M540.9 806h0M543 809.9h0M550.2 823h0M537.1 827h0M537.5 808.9h0M554.3 815h0M537.5 795.2h0M541.3 804.3h0M554.2 786.9h0M548.7 813.5h0M549.5 811.5h0M557.1 811.8h0M551.9 812.9h0M559.3 778.4h0M555.3 801.3h0M542.8 791.4h0M530.1 799.7h0M533.8 835.4h0M589.5 878.6h0M597.5 879.9h0M584.4 875.4h0M522.4 837.5h0M576.5 869.6h0M548 845.5h0M522.5 838.5h0M550.8 847.5h0M591 876.5h0M586.8 876.3h0M542.6 839.9h0M512.8 857.9h0M589 875.3h0M596.8 879.9h0M553.5 849h0M527.5 835.9h0M556.5 853.9h0M570.4 863.5h0M550.9 849.9h0M539.1 840.1h0M529.5 834.1h0M534 837h0M511.5 861.9h0M530.2 837.1h0M593.7 879.9h0M507.7 867.6h0M573.2 863.4h0M578.8 870.6h0M543.8 843.3h0M561.2 854.5h0M527.1 834.7h0M567.8 860.8h0M571.4 862h0M573.8 866.6h0M551.7 849h0M595.3 879.9h0M585.8 873h0M559.1 854h0M569.1 860.2h0M858.2 143.2h0M762.5 393.8h0M627.6 540.6h0M651.7 536.2h0M841.5 537.5h0M857.8 581.5h0M629.5 584.5h0M634.2 620h0M641.5 618.4h0M663.7 627.6h0M857.8 621.5h0M637.3 636.3h0M857.8 639.4h0M590.2 647.6h0M767.2 654.6h0M857.8 668.6h0M603.1 671.7h0M671.5 671.7h0M581.7 686.1h0M584.4 694.3h0M596.5 692.3h0M678.9 697.4h0M683.6 697h0M857.8 704.8h0M857.8 714.5h0M857.8 723.4h0M857.8 726.2h0M699.9 714.9h0M572.3 719.6h0M573.1 728.5h0M563 746.4h0M857.8 746.4h0M857.8 751.5h0M857.8 756.5h0M556.4 754.6h0M561.1 759.2h0M560.3 765.1h0M566.9 762.3h0M570 763.5h0M577.8 753.4h0M579.7 757.3h0M672.3 765.5h0M717.4 771.7h0M713.1 780.6h0M581.3 773.6h0M552.5 775.6h0M554.5 778.7h0M556.4 784.5h0M547.8 787.6h0M555.6 793.1h0M544.7 798.1h0M632.2 785.3h0M657.1 790.3h0M741.5 788.4h0M577.8 793.1h0M857.8 784.5h0M857.8 788.8h0M857.8 792.3h0M857.8 798.1h0M600.4 796.2h0M748.5 831.1h0M683 838.5h0M691.4 840.9h0M688 861.7h0M704.8 863h0M716.2 862h0M680.7 870h0M688.3 871.3h0M705.5 874h0M696.8 880h0M583.9 806.7h0M590.6 813.3h0M600.6 810.6h0M605.6 816.7h0M603.9 821.7h0M600 825.6h0M624.4 811.1h0M626.7 818.9h0M638.9 822.8h0M646.1 821.7h0M673.9 801.7h0M673.3 806.1h0M656.1 827.8h0M631.1 831.1h0M602.2 834.4h0M613.3 840.6h0M608.9 843.9h0M627.8 842.8h0M646.7 842.2h0M651.7 840.6h0M661.7 846.1h0M682.8 838.3h0M691.7 840.6h0M643.3 853.9h0M646.1 856.7h0M672.8 852.8h0M615.6 850h0M618.9 853.3h0M622.2 856.7h0M688.3 861.1h0M665.6 858.3h0M674.4 861.1h0M626.7 862.2h0M633.3 864.4h0M635.6 875.6h0M664.4 867.8h0M675.6 867.8h0M681.1 870h0M688.3 871.1h0M668.9 874.4h0M696.7 880h0M858 806h0M858 808h0M858 810h0M858 812h0M858 814h0M858 816h0M858 818h0M858 820h0M858 822h0M858 824h0M858 826h0M858 828h0M858 830h0M858 832h0M858 834h0M858 836h0M858 838h0M858 840h0M858 842h0M858 844h0M858 846h0M858 848h0M858 850h0M858 852h0M858 854h0M858 856h0M858 858h0M858 860h0M858 862h0M858 864h0M858 866h0M858 868h0M858 870h0M858 872h0M858 874h0M858 876h0M858 878h0M858 880h0" stroke="#ff0000" stroke-width="5.8" stroke-linecap="round" fill="none"/>
<line x1="436.9" y1="112.0" x2="436.9" y2="940.4" stroke="#858585" stroke-width="2"/><line x1="507.4" y1="112.0" x2="507.4" y2="940.4" stroke="#bbbbbb" stroke-width="1.6"/><line x1="112.5" y1="882.4" x2="886.4" y2="882.4" stroke="#999" stroke-width="1.8"/>
<rect x="112.5" y="112.0" width="773.9" height="828.4" fill="none" stroke="#111" stroke-width="1.6"/><line x1="99" y1="909.9" x2="112.5" y2="909.9" stroke="#111" stroke-width="1.6"/><text transform="translate(81.4 909.9) rotate(-90)" text-anchor="middle" font-family="Liberation Sans, Arial, sans-serif" font-size="23">0</text><line x1="99" y1="802.3" x2="112.5" y2="802.3" stroke="#111" stroke-width="1.6"/><text transform="translate(81.4 802.3) rotate(-90)" text-anchor="middle" font-family="Liberation Sans, Arial, sans-serif" font-size="23">5</text><line x1="99" y1="694.8" x2="112.5" y2="694.8" stroke="#111" stroke-width="1.6"/><text transform="translate(81.4 694.8) rotate(-90)" text-anchor="middle" font-family="Liberation Sans, Arial, sans-serif" font-size="23">10</text><line x1="99" y1="587.2" x2="112.5" y2="587.2" stroke="#111" stroke-width="1.6"/><text transform="translate(81.4 587.2) rotate(-90)" text-anchor="middle" font-family="Liberation Sans, Arial, sans-serif" font-size="23">15</text><line x1="99" y1="479.6" x2="112.5" y2="479.6" stroke="#111" stroke-width="1.6"/><text transform="translate(81.4 479.6) rotate(-90)" text-anchor="middle" font-family="Liberation Sans, Arial, sans-serif" font-size="23">20</text><line x1="99" y1="372" x2="112.5" y2="372" stroke="#111" stroke-width="1.6"/><text transform="translate(81.4 372) rotate(-90)" text-anchor="middle" font-family="Liberation Sans, Arial, sans-serif" font-size="23">25</text><line x1="99" y1="264.5" x2="112.5" y2="264.5" stroke="#111" stroke-width="1.6"/><text transform="translate(81.4 264.5) rotate(-90)" text-anchor="middle" font-family="Liberation Sans, Arial, sans-serif" font-size="23">30</text><line x1="99" y1="156.9" x2="112.5" y2="156.9" stroke="#111" stroke-width="1.6"/><text transform="translate(81.4 156.9) rotate(-90)" text-anchor="middle" font-family="Liberation Sans, Arial, sans-serif" font-size="23">35</text><line x1="122.2" y1="940.4" x2="122.2" y2="955.7" stroke="#111" stroke-width="1.6"/><text x="121.4" y="989.3" text-anchor="middle" font-family="Liberation Sans, Arial, sans-serif" font-size="22">−10</text><line x1="297.1" y1="940.4" x2="297.1" y2="955.7" stroke="#111" stroke-width="1.6"/><text x="296.3" y="989.3" text-anchor="middle" font-family="Liberation Sans, Arial, sans-serif" font-size="22">−5</text><line x1="472.1" y1="940.4" x2="472.1" y2="955.7" stroke="#111" stroke-width="1.6"/><text x="471.3" y="989.3" text-anchor="middle" font-family="Liberation Sans, Arial, sans-serif" font-size="22">0</text><line x1="647.1" y1="940.4" x2="647.1" y2="955.7" stroke="#111" stroke-width="1.6"/><text x="646.3" y="989.3" text-anchor="middle" font-family="Liberation Sans, Arial, sans-serif" font-size="22">5</text><line x1="822" y1="940.4" x2="822" y2="955.7" stroke="#111" stroke-width="1.6"/><text x="821.2" y="989.3" text-anchor="middle" font-family="Liberation Sans, Arial, sans-serif" font-size="22">10</text><text x="499.5" y="1037.7" text-anchor="middle" font-family="Liberation Sans, Arial, sans-serif" font-size="22.4">log<tspan font-size="15" dy="5">2</tspan><tspan dy="-5"> fold change</tspan></text><text transform="translate(21.5 526.4) rotate(-90)" text-anchor="middle" font-family="Liberation Sans, Arial, sans-serif" font-size="22">−log<tspan font-size="15" dy="5">10</tspan><tspan dy="-5">pvalue</tspan></text><rect x="131.7" y="132.9" width="120.9" height="107.5" fill="#fff" stroke="#111" stroke-width="1.6"/><circle cx="148.5" cy="154.5" r="4.6" fill="#838a87"/><text x="165.5" y="160.6" font-family="Liberation Sans, Arial, sans-serif" font-size="18.5">Filtered</text><circle cx="148.5" cy="176" r="4.6" fill="#ff0000"/><text x="165.5" y="182.1" font-family="Liberation Sans, Arial, sans-serif" font-size="18.5">Sig.Up</text><circle cx="148.5" cy="197.5" r="4.6" fill="#00ff00"/><text x="165.5" y="203.6" font-family="Liberation Sans, Arial, sans-serif" font-size="18.5">Sig.Down</text><circle cx="148.5" cy="219" r="4.6" fill="#1c86ee"/><text x="165.5" y="225.1" font-family="Liberation Sans, Arial, sans-serif" font-size="18.5">InSig</text>
</svg></body></html>
